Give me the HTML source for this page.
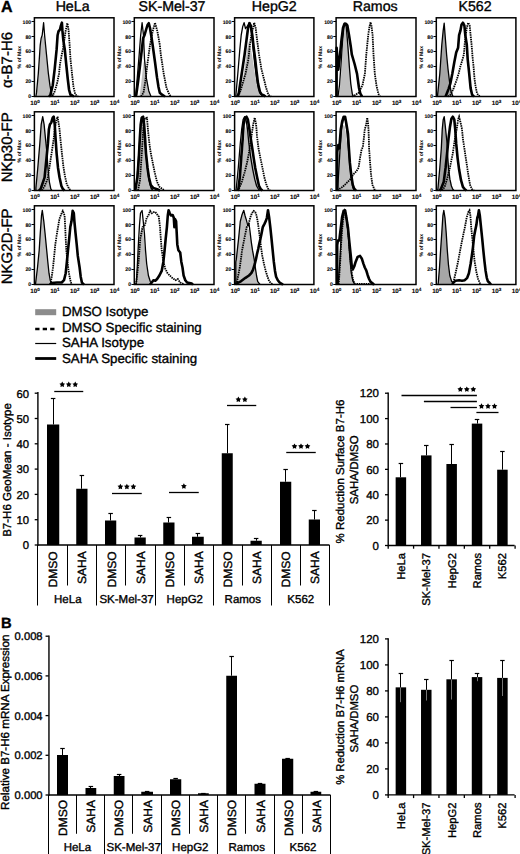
<!DOCTYPE html>
<html><head><meta charset="utf-8"><style>
html,body{margin:0;padding:0;background:#fff;}
svg{display:block;text-rendering:geometricPrecision;}
text{font-family:"Liberation Sans", sans-serif;fill:#000;stroke:#000;stroke-width:0.35px;}
</style></head><body>
<svg width="520" height="854" viewBox="0 0 520 854">
<rect width="520" height="854" fill="#fff"/>
<text x="1.00" y="11.50" font-size="16" text-anchor="start" font-weight="bold">A</text>
<text x="72.60" y="11.20" font-size="14.2" text-anchor="middle">HeLa</text>
<text x="172.00" y="11.20" font-size="14.2" text-anchor="middle">SK-Mel-37</text>
<text x="274.25" y="11.20" font-size="14.2" text-anchor="middle">HepG2</text>
<text x="375.20" y="11.20" font-size="14.2" text-anchor="middle">Ramos</text>
<text x="475.00" y="11.20" font-size="14.2" text-anchor="middle">K562</text>
<text x="12.20" y="60.00" font-size="15" text-anchor="middle" transform="rotate(-90 12.20 60.00)">&#945;-B7-H6</text>
<text x="12.20" y="147.30" font-size="15" text-anchor="middle" transform="rotate(-90 12.20 147.30)">NKp30-FP</text>
<text x="12.20" y="246.30" font-size="15" text-anchor="middle" transform="rotate(-90 12.20 246.30)">NKG2D-FP</text>
<path d="M36.50,96.50 L38.50,76.00 L40.30,50.00 L42.00,37.00 L43.30,35.50 L44.60,40.00 L46.50,56.00 L48.40,74.00 L50.00,86.00 L51.50,94.00 L52.50,96.50 Z" fill="#bfbfbf" stroke="none"/>
<path d="M35.90,96.50 L36.50,92.90 L38.30,73.70 L40.25,44.80 L41.20,38.10 L42.20,35.20 L43.60,22.70 L44.60,35.20 L46.50,54.50 L48.40,73.70 L49.90,85.20 L51.30,92.90 L52.30,95.30 L53.50,96.50" fill="none" stroke="#000" stroke-width="1.3" stroke-linejoin="round"/>
<path d="M52.00,96.50 L54.20,92.90 L57.10,83.30 L59.00,73.70 L60.00,64.00 L61.40,56.40 L62.80,49.70 L64.30,40.00 L65.70,30.40 L67.20,23.70 L67.50,23.20 L68.60,30.40 L69.60,44.80 L70.50,59.30 L72.00,73.70 L73.40,86.20 L74.90,92.90 L76.30,95.30 L78.00,96.50" fill="none" stroke="#000" stroke-width="1.8" stroke-dasharray="1.5,0.8"/>
<path d="M49.00,96.50 L50.30,95.30 L52.75,85.20 L54.70,68.90 L56.60,49.70 L57.60,35.20 L58.50,31.40 L60.00,29.50 L60.90,25.60 L61.90,22.70 L62.40,30.40 L63.30,40.00 L64.80,49.70 L66.20,64.00 L67.70,78.50 L69.10,90.00 L70.50,94.80 L72.00,95.30 L74.00,96.50" fill="none" stroke="#000" stroke-width="2.6" stroke-linejoin="round"/>
<rect x="34.40" y="17.80" width="79.60" height="78.70" fill="none" stroke="#000" stroke-width="1.5"/>
<line x1="31.60" y1="96.50" x2="34.40" y2="96.50" stroke="#000" stroke-width="1.0"/>
<text x="31.20" y="98.30" font-size="5.2" text-anchor="end" font-weight="bold" style="stroke-width:0.1px">0</text>
<line x1="31.60" y1="81.50" x2="34.40" y2="81.50" stroke="#000" stroke-width="1.0"/>
<text x="31.20" y="83.36" font-size="5.2" text-anchor="end" font-weight="bold" style="stroke-width:0.1px">20</text>
<line x1="31.60" y1="66.50" x2="34.40" y2="66.50" stroke="#000" stroke-width="1.0"/>
<text x="31.20" y="68.42" font-size="5.2" text-anchor="end" font-weight="bold" style="stroke-width:0.1px">40</text>
<line x1="31.60" y1="51.50" x2="34.40" y2="51.50" stroke="#000" stroke-width="1.0"/>
<text x="31.20" y="53.48" font-size="5.2" text-anchor="end" font-weight="bold" style="stroke-width:0.1px">60</text>
<line x1="31.60" y1="36.50" x2="34.40" y2="36.50" stroke="#000" stroke-width="1.0"/>
<text x="31.20" y="38.54" font-size="5.2" text-anchor="end" font-weight="bold" style="stroke-width:0.1px">80</text>
<line x1="31.60" y1="21.50" x2="34.40" y2="21.50" stroke="#000" stroke-width="1.0"/>
<text x="31.20" y="23.60" font-size="5.2" text-anchor="end" font-weight="bold" style="stroke-width:0.1px">100</text>
<text x="35.00" y="105.10" font-size="6.2" font-weight="bold" style="stroke-width:0.1px" text-anchor="middle">10<tspan font-size="4.6" dy="-2.6">0</tspan></text>
<text x="54.90" y="105.10" font-size="6.2" font-weight="bold" style="stroke-width:0.1px" text-anchor="middle">10<tspan font-size="4.6" dy="-2.6">1</tspan></text>
<text x="74.80" y="105.10" font-size="6.2" font-weight="bold" style="stroke-width:0.1px" text-anchor="middle">10<tspan font-size="4.6" dy="-2.6">2</tspan></text>
<text x="94.70" y="105.10" font-size="6.2" font-weight="bold" style="stroke-width:0.1px" text-anchor="middle">10<tspan font-size="4.6" dy="-2.6">3</tspan></text>
<text x="114.60" y="105.10" font-size="6.2" font-weight="bold" style="stroke-width:0.1px" text-anchor="middle">10<tspan font-size="4.6" dy="-2.6">4</tspan></text>
<text x="20.80" y="57.15" font-size="5.2" text-anchor="middle" font-weight="bold" transform="rotate(-90 20.80 57.15)" style="stroke-width:0px">% of Max</text>
<path d="M139.50,96.50 L141.00,85.00 L142.50,72.00 L143.50,63.00 L144.50,59.20 L145.50,64.00 L146.50,75.00 L148.00,86.00 L149.80,94.00 L150.50,96.50 Z" fill="#bfbfbf" stroke="none"/>
<path d="M135.50,96.50 L135.80,94.70 L137.50,75.00 L139.20,54.40 L140.70,35.00 L142.10,22.70 L143.50,35.20 L144.50,59.20 L146.40,78.40 L148.80,90.90 L151.00,96.50" fill="none" stroke="#000" stroke-width="1.3" stroke-linejoin="round"/>
<path d="M141.00,96.50 L143.50,92.80 L145.50,80.00 L147.40,64.00 L150.00,45.00 L152.50,32.00 L155.00,22.70 L157.40,31.40 L159.80,44.80 L160.80,54.40 L163.70,73.60 L166.50,88.00 L169.40,94.70 L171.00,96.50" fill="none" stroke="#000" stroke-width="1.8" stroke-dasharray="1.5,0.8"/>
<path d="M135.50,96.50 L136.30,94.70 L138.00,82.00 L140.20,64.00 L142.00,48.00 L143.20,38.00 L144.50,35.20 L146.00,30.00 L147.50,25.00 L148.80,23.20 L150.00,28.00 L151.30,36.00 L152.60,44.80 L155.00,62.00 L157.00,77.40 L158.50,87.00 L159.80,92.80 L162.00,94.70 L165.00,96.50" fill="none" stroke="#000" stroke-width="2.6" stroke-linejoin="round"/>
<rect x="134.30" y="17.80" width="79.70" height="78.70" fill="none" stroke="#000" stroke-width="1.5"/>
<line x1="131.50" y1="96.50" x2="134.30" y2="96.50" stroke="#000" stroke-width="1.0"/>
<text x="131.10" y="98.30" font-size="5.2" text-anchor="end" font-weight="bold" style="stroke-width:0.1px">0</text>
<line x1="131.50" y1="81.50" x2="134.30" y2="81.50" stroke="#000" stroke-width="1.0"/>
<text x="131.10" y="83.36" font-size="5.2" text-anchor="end" font-weight="bold" style="stroke-width:0.1px">20</text>
<line x1="131.50" y1="66.50" x2="134.30" y2="66.50" stroke="#000" stroke-width="1.0"/>
<text x="131.10" y="68.42" font-size="5.2" text-anchor="end" font-weight="bold" style="stroke-width:0.1px">40</text>
<line x1="131.50" y1="51.50" x2="134.30" y2="51.50" stroke="#000" stroke-width="1.0"/>
<text x="131.10" y="53.48" font-size="5.2" text-anchor="end" font-weight="bold" style="stroke-width:0.1px">60</text>
<line x1="131.50" y1="36.50" x2="134.30" y2="36.50" stroke="#000" stroke-width="1.0"/>
<text x="131.10" y="38.54" font-size="5.2" text-anchor="end" font-weight="bold" style="stroke-width:0.1px">80</text>
<line x1="131.50" y1="21.50" x2="134.30" y2="21.50" stroke="#000" stroke-width="1.0"/>
<text x="131.10" y="23.60" font-size="5.2" text-anchor="end" font-weight="bold" style="stroke-width:0.1px">100</text>
<text x="134.90" y="105.10" font-size="6.2" font-weight="bold" style="stroke-width:0.1px" text-anchor="middle">10<tspan font-size="4.6" dy="-2.6">0</tspan></text>
<text x="154.83" y="105.10" font-size="6.2" font-weight="bold" style="stroke-width:0.1px" text-anchor="middle">10<tspan font-size="4.6" dy="-2.6">1</tspan></text>
<text x="174.75" y="105.10" font-size="6.2" font-weight="bold" style="stroke-width:0.1px" text-anchor="middle">10<tspan font-size="4.6" dy="-2.6">2</tspan></text>
<text x="194.67" y="105.10" font-size="6.2" font-weight="bold" style="stroke-width:0.1px" text-anchor="middle">10<tspan font-size="4.6" dy="-2.6">3</tspan></text>
<text x="214.60" y="105.10" font-size="6.2" font-weight="bold" style="stroke-width:0.1px" text-anchor="middle">10<tspan font-size="4.6" dy="-2.6">4</tspan></text>
<text x="120.70" y="57.15" font-size="5.2" text-anchor="middle" font-weight="bold" transform="rotate(-90 120.70 57.15)" style="stroke-width:0px">% of Max</text>
<path d="M238.00,96.50 L242.00,85.00 L245.00,65.00 L247.00,50.00 L248.50,42.00 L250.00,45.00 L252.00,55.00 L254.00,68.00 L256.00,80.00 L258.00,90.00 L260.00,95.30 L261.00,96.50 Z" fill="#bfbfbf" stroke="none"/>
<path d="M235.90,96.50 L235.90,94.80 L237.80,73.70 L239.80,49.70 L241.20,35.20 L242.70,26.60 L244.10,22.70 L245.50,28.50 L247.00,26.60 L248.40,24.70 L249.90,22.70 L251.80,35.20 L253.20,49.70 L254.70,64.00 L256.60,78.50 L258.50,89.10 L260.40,93.90 L262.40,95.30 L264.00,96.50" fill="none" stroke="#000" stroke-width="1.3" stroke-linejoin="round"/>
<path d="M238.00,96.50 L239.80,92.90 L242.70,83.30 L245.50,73.70 L248.40,59.30 L249.90,44.80 L251.30,35.20 L253.20,27.50 L254.20,22.70 L255.60,27.50 L257.10,40.00 L259.00,54.50 L261.40,68.90 L263.80,78.50 L265.70,86.20 L267.70,92.90 L269.10,95.30 L271.00,96.50" fill="none" stroke="#000" stroke-width="1.8" stroke-dasharray="1.5,0.8"/>
<path d="M237.50,96.50 L238.80,92.90 L241.70,73.70 L244.60,54.50 L246.50,40.00 L248.00,28.50 L249.40,23.20 L250.80,25.60 L252.30,35.20 L253.70,47.70 L255.20,59.30 L256.60,71.80 L258.00,83.30 L260.00,92.00 L261.90,94.80 L263.80,95.30 L265.50,96.50" fill="none" stroke="#000" stroke-width="2.6" stroke-linejoin="round"/>
<rect x="234.60" y="17.80" width="79.30" height="78.70" fill="none" stroke="#000" stroke-width="1.5"/>
<line x1="231.80" y1="96.50" x2="234.60" y2="96.50" stroke="#000" stroke-width="1.0"/>
<text x="231.40" y="98.30" font-size="5.2" text-anchor="end" font-weight="bold" style="stroke-width:0.1px">0</text>
<line x1="231.80" y1="81.50" x2="234.60" y2="81.50" stroke="#000" stroke-width="1.0"/>
<text x="231.40" y="83.36" font-size="5.2" text-anchor="end" font-weight="bold" style="stroke-width:0.1px">20</text>
<line x1="231.80" y1="66.50" x2="234.60" y2="66.50" stroke="#000" stroke-width="1.0"/>
<text x="231.40" y="68.42" font-size="5.2" text-anchor="end" font-weight="bold" style="stroke-width:0.1px">40</text>
<line x1="231.80" y1="51.50" x2="234.60" y2="51.50" stroke="#000" stroke-width="1.0"/>
<text x="231.40" y="53.48" font-size="5.2" text-anchor="end" font-weight="bold" style="stroke-width:0.1px">60</text>
<line x1="231.80" y1="36.50" x2="234.60" y2="36.50" stroke="#000" stroke-width="1.0"/>
<text x="231.40" y="38.54" font-size="5.2" text-anchor="end" font-weight="bold" style="stroke-width:0.1px">80</text>
<line x1="231.80" y1="21.50" x2="234.60" y2="21.50" stroke="#000" stroke-width="1.0"/>
<text x="231.40" y="23.60" font-size="5.2" text-anchor="end" font-weight="bold" style="stroke-width:0.1px">100</text>
<text x="235.20" y="105.10" font-size="6.2" font-weight="bold" style="stroke-width:0.1px" text-anchor="middle">10<tspan font-size="4.6" dy="-2.6">0</tspan></text>
<text x="255.02" y="105.10" font-size="6.2" font-weight="bold" style="stroke-width:0.1px" text-anchor="middle">10<tspan font-size="4.6" dy="-2.6">1</tspan></text>
<text x="274.85" y="105.10" font-size="6.2" font-weight="bold" style="stroke-width:0.1px" text-anchor="middle">10<tspan font-size="4.6" dy="-2.6">2</tspan></text>
<text x="294.68" y="105.10" font-size="6.2" font-weight="bold" style="stroke-width:0.1px" text-anchor="middle">10<tspan font-size="4.6" dy="-2.6">3</tspan></text>
<text x="314.50" y="105.10" font-size="6.2" font-weight="bold" style="stroke-width:0.1px" text-anchor="middle">10<tspan font-size="4.6" dy="-2.6">4</tspan></text>
<text x="221.00" y="57.15" font-size="5.2" text-anchor="middle" font-weight="bold" transform="rotate(-90 221.00 57.15)" style="stroke-width:0px">% of Max</text>
<path d="M338.80,96.50 L340.00,88.00 L341.50,70.00 L343.00,45.00 L344.50,28.00 L345.50,24.00 L346.50,28.00 L348.00,45.00 L349.50,65.00 L351.00,82.00 L352.50,93.00 L353.20,96.50 Z" fill="#bfbfbf" stroke="none"/>
<path d="M338.00,96.50 L339.50,85.00 L341.00,65.00 L342.50,42.00 L344.00,26.00 L345.00,23.00 L346.30,27.00 L347.80,45.00 L349.30,66.00 L350.80,84.00 L352.30,94.00 L353.50,96.50" fill="none" stroke="#000" stroke-width="1.3" stroke-linejoin="round"/>
<path d="M352.00,96.50 L354.80,95.20 L358.60,92.80 L362.50,85.10 L364.90,73.60 L366.30,54.40 L368.20,35.20 L369.60,26.00 L370.60,22.20 L371.50,26.00 L372.60,35.20 L373.50,54.40 L374.80,73.60 L376.40,85.10 L378.30,93.70 L380.00,96.50" fill="none" stroke="#000" stroke-width="1.8" stroke-dasharray="1.5,0.8"/>
<path d="M336.60,96.50 L336.60,47.70 L337.50,60.00 L338.30,69.70 L340.00,55.00 L341.50,40.00 L343.00,28.00 L344.50,23.70 L346.00,23.70 L347.40,25.60 L349.00,35.00 L350.80,46.70 L351.80,54.40 L354.60,64.00 L357.00,73.60 L359.00,88.00 L360.40,93.70 L362.00,96.50" fill="none" stroke="#000" stroke-width="2.6" stroke-linejoin="round"/>
<rect x="336.10" y="17.80" width="79.90" height="78.70" fill="none" stroke="#000" stroke-width="1.5"/>
<line x1="333.30" y1="96.50" x2="336.10" y2="96.50" stroke="#000" stroke-width="1.0"/>
<text x="332.90" y="98.30" font-size="5.2" text-anchor="end" font-weight="bold" style="stroke-width:0.1px">0</text>
<line x1="333.30" y1="81.50" x2="336.10" y2="81.50" stroke="#000" stroke-width="1.0"/>
<text x="332.90" y="83.36" font-size="5.2" text-anchor="end" font-weight="bold" style="stroke-width:0.1px">20</text>
<line x1="333.30" y1="66.50" x2="336.10" y2="66.50" stroke="#000" stroke-width="1.0"/>
<text x="332.90" y="68.42" font-size="5.2" text-anchor="end" font-weight="bold" style="stroke-width:0.1px">40</text>
<line x1="333.30" y1="51.50" x2="336.10" y2="51.50" stroke="#000" stroke-width="1.0"/>
<text x="332.90" y="53.48" font-size="5.2" text-anchor="end" font-weight="bold" style="stroke-width:0.1px">60</text>
<line x1="333.30" y1="36.50" x2="336.10" y2="36.50" stroke="#000" stroke-width="1.0"/>
<text x="332.90" y="38.54" font-size="5.2" text-anchor="end" font-weight="bold" style="stroke-width:0.1px">80</text>
<line x1="333.30" y1="21.50" x2="336.10" y2="21.50" stroke="#000" stroke-width="1.0"/>
<text x="332.90" y="23.60" font-size="5.2" text-anchor="end" font-weight="bold" style="stroke-width:0.1px">100</text>
<text x="336.70" y="105.10" font-size="6.2" font-weight="bold" style="stroke-width:0.1px" text-anchor="middle">10<tspan font-size="4.6" dy="-2.6">0</tspan></text>
<text x="356.68" y="105.10" font-size="6.2" font-weight="bold" style="stroke-width:0.1px" text-anchor="middle">10<tspan font-size="4.6" dy="-2.6">1</tspan></text>
<text x="376.65" y="105.10" font-size="6.2" font-weight="bold" style="stroke-width:0.1px" text-anchor="middle">10<tspan font-size="4.6" dy="-2.6">2</tspan></text>
<text x="396.62" y="105.10" font-size="6.2" font-weight="bold" style="stroke-width:0.1px" text-anchor="middle">10<tspan font-size="4.6" dy="-2.6">3</tspan></text>
<text x="416.60" y="105.10" font-size="6.2" font-weight="bold" style="stroke-width:0.1px" text-anchor="middle">10<tspan font-size="4.6" dy="-2.6">4</tspan></text>
<text x="322.50" y="57.15" font-size="5.2" text-anchor="middle" font-weight="bold" transform="rotate(-90 322.50 57.15)" style="stroke-width:0px">% of Max</text>
<path d="M437.40,96.50 L437.80,92.90 L439.80,73.70 L441.80,44.80 L443.20,30.40 L444.20,23.20 L445.10,35.20 L446.60,54.50 L448.00,68.90 L449.50,81.40 L450.90,91.00 L452.30,94.80 L453.00,96.50 Z" fill="#a6a6a6" stroke="none"/>
<path d="M437.40,96.50 L437.80,92.90 L439.80,73.70 L441.80,44.80 L443.20,30.40 L444.20,23.20 L445.10,35.20 L446.60,54.50 L448.00,68.90 L449.50,81.40 L450.90,91.00 L452.30,94.80 L453.00,96.50" fill="none" stroke="#000" stroke-width="1.3" stroke-linejoin="round"/>
<path d="M448.00,96.50 L450.40,94.80 L453.30,89.10 L456.20,81.40 L458.60,73.70 L460.50,66.00 L462.00,61.20 L463.90,54.50 L464.80,42.90 L465.80,35.20 L466.80,27.50 L468.20,22.70 L469.70,25.60 L470.60,35.20 L471.60,44.80 L472.50,56.40 L473.50,66.00 L474.50,78.50 L475.40,85.20 L476.90,92.90 L478.30,95.30 L480.00,96.50" fill="none" stroke="#000" stroke-width="1.8" stroke-dasharray="1.5,0.8"/>
<path d="M445.60,96.50 L448.50,89.10 L450.40,83.30 L452.30,73.70 L454.30,62.20 L456.20,52.50 L458.10,47.70 L459.10,35.20 L460.50,30.40 L461.50,24.70 L462.90,22.70 L464.40,25.60 L465.30,35.20 L466.80,44.80 L467.70,59.30 L469.20,73.70 L470.60,88.10 L472.10,94.80 L474.00,96.50" fill="none" stroke="#000" stroke-width="2.6" stroke-linejoin="round"/>
<rect x="436.30" y="17.80" width="79.60" height="78.70" fill="none" stroke="#000" stroke-width="1.5"/>
<line x1="433.50" y1="96.50" x2="436.30" y2="96.50" stroke="#000" stroke-width="1.0"/>
<text x="433.10" y="98.30" font-size="5.2" text-anchor="end" font-weight="bold" style="stroke-width:0.1px">0</text>
<line x1="433.50" y1="81.50" x2="436.30" y2="81.50" stroke="#000" stroke-width="1.0"/>
<text x="433.10" y="83.36" font-size="5.2" text-anchor="end" font-weight="bold" style="stroke-width:0.1px">20</text>
<line x1="433.50" y1="66.50" x2="436.30" y2="66.50" stroke="#000" stroke-width="1.0"/>
<text x="433.10" y="68.42" font-size="5.2" text-anchor="end" font-weight="bold" style="stroke-width:0.1px">40</text>
<line x1="433.50" y1="51.50" x2="436.30" y2="51.50" stroke="#000" stroke-width="1.0"/>
<text x="433.10" y="53.48" font-size="5.2" text-anchor="end" font-weight="bold" style="stroke-width:0.1px">60</text>
<line x1="433.50" y1="36.50" x2="436.30" y2="36.50" stroke="#000" stroke-width="1.0"/>
<text x="433.10" y="38.54" font-size="5.2" text-anchor="end" font-weight="bold" style="stroke-width:0.1px">80</text>
<line x1="433.50" y1="21.50" x2="436.30" y2="21.50" stroke="#000" stroke-width="1.0"/>
<text x="433.10" y="23.60" font-size="5.2" text-anchor="end" font-weight="bold" style="stroke-width:0.1px">100</text>
<text x="436.90" y="105.10" font-size="6.2" font-weight="bold" style="stroke-width:0.1px" text-anchor="middle">10<tspan font-size="4.6" dy="-2.6">0</tspan></text>
<text x="456.80" y="105.10" font-size="6.2" font-weight="bold" style="stroke-width:0.1px" text-anchor="middle">10<tspan font-size="4.6" dy="-2.6">1</tspan></text>
<text x="476.70" y="105.10" font-size="6.2" font-weight="bold" style="stroke-width:0.1px" text-anchor="middle">10<tspan font-size="4.6" dy="-2.6">2</tspan></text>
<text x="496.60" y="105.10" font-size="6.2" font-weight="bold" style="stroke-width:0.1px" text-anchor="middle">10<tspan font-size="4.6" dy="-2.6">3</tspan></text>
<text x="516.50" y="105.10" font-size="6.2" font-weight="bold" style="stroke-width:0.1px" text-anchor="middle">10<tspan font-size="4.6" dy="-2.6">4</tspan></text>
<text x="422.70" y="57.15" font-size="5.2" text-anchor="middle" font-weight="bold" transform="rotate(-90 422.70 57.15)" style="stroke-width:0px">% of Max</text>
<path d="M35.90,190.50 L35.90,187.90 L37.80,167.70 L39.80,143.70 L41.20,124.40 L42.70,116.70 L44.10,124.40 L45.50,138.80 L47.00,153.30 L47.90,167.70 L49.40,182.10 L50.80,188.80 L52.00,190.50 Z" fill="#bfbfbf" stroke="none"/>
<path d="M35.90,190.50 L35.90,187.90 L37.80,167.70 L39.80,143.70 L41.20,124.40 L42.70,116.70 L44.10,124.40 L45.50,138.80 L47.00,153.30 L47.90,167.70 L49.40,182.10 L50.80,188.80 L52.00,190.50" fill="none" stroke="#000" stroke-width="1.3" stroke-linejoin="round"/>
<path d="M42.00,190.50 L44.60,186.00 L47.50,179.20 L49.40,167.70 L50.80,158.10 L52.30,148.50 L53.70,138.80 L54.70,129.20 L56.60,119.60 L57.60,116.70 L59.50,129.20 L60.40,138.80 L61.90,153.30 L63.30,165.80 L64.80,175.40 L66.70,184.00 L69.10,188.80 L71.00,190.50" fill="none" stroke="#000" stroke-width="1.8" stroke-dasharray="1.5,0.8"/>
<path d="M39.00,190.50 L40.70,188.80 L44.60,177.30 L46.50,158.10 L47.90,143.70 L48.90,129.20 L49.90,124.40 L51.30,122.50 L52.75,117.70 L53.70,116.70 L54.70,124.40 L55.60,138.80 L56.60,153.30 L58.00,167.70 L59.50,177.30 L61.40,186.00 L62.80,188.80 L64.50,190.50" fill="none" stroke="#000" stroke-width="2.6" stroke-linejoin="round"/>
<rect x="34.40" y="111.80" width="79.60" height="78.70" fill="none" stroke="#000" stroke-width="1.5"/>
<line x1="31.60" y1="190.50" x2="34.40" y2="190.50" stroke="#000" stroke-width="1.0"/>
<text x="31.20" y="192.30" font-size="5.2" text-anchor="end" font-weight="bold" style="stroke-width:0.1px">0</text>
<line x1="31.60" y1="175.50" x2="34.40" y2="175.50" stroke="#000" stroke-width="1.0"/>
<text x="31.20" y="177.36" font-size="5.2" text-anchor="end" font-weight="bold" style="stroke-width:0.1px">20</text>
<line x1="31.60" y1="160.50" x2="34.40" y2="160.50" stroke="#000" stroke-width="1.0"/>
<text x="31.20" y="162.42" font-size="5.2" text-anchor="end" font-weight="bold" style="stroke-width:0.1px">40</text>
<line x1="31.60" y1="145.50" x2="34.40" y2="145.50" stroke="#000" stroke-width="1.0"/>
<text x="31.20" y="147.48" font-size="5.2" text-anchor="end" font-weight="bold" style="stroke-width:0.1px">60</text>
<line x1="31.60" y1="130.50" x2="34.40" y2="130.50" stroke="#000" stroke-width="1.0"/>
<text x="31.20" y="132.54" font-size="5.2" text-anchor="end" font-weight="bold" style="stroke-width:0.1px">80</text>
<line x1="31.60" y1="115.50" x2="34.40" y2="115.50" stroke="#000" stroke-width="1.0"/>
<text x="31.20" y="117.60" font-size="5.2" text-anchor="end" font-weight="bold" style="stroke-width:0.1px">100</text>
<text x="35.00" y="199.10" font-size="6.2" font-weight="bold" style="stroke-width:0.1px" text-anchor="middle">10<tspan font-size="4.6" dy="-2.6">0</tspan></text>
<text x="54.90" y="199.10" font-size="6.2" font-weight="bold" style="stroke-width:0.1px" text-anchor="middle">10<tspan font-size="4.6" dy="-2.6">1</tspan></text>
<text x="74.80" y="199.10" font-size="6.2" font-weight="bold" style="stroke-width:0.1px" text-anchor="middle">10<tspan font-size="4.6" dy="-2.6">2</tspan></text>
<text x="94.70" y="199.10" font-size="6.2" font-weight="bold" style="stroke-width:0.1px" text-anchor="middle">10<tspan font-size="4.6" dy="-2.6">3</tspan></text>
<text x="114.60" y="199.10" font-size="6.2" font-weight="bold" style="stroke-width:0.1px" text-anchor="middle">10<tspan font-size="4.6" dy="-2.6">4</tspan></text>
<text x="20.80" y="151.15" font-size="5.2" text-anchor="middle" font-weight="bold" transform="rotate(-90 20.80 151.15)" style="stroke-width:0px">% of Max</text>
<path d="M136.50,190.50 L138.00,180.00 L140.00,150.00 L141.50,125.00 L143.00,118.00 L144.50,125.00 L146.00,145.00 L148.00,165.00 L150.00,180.00 L152.00,188.00 L154.00,190.50 Z" fill="#bfbfbf" stroke="none"/>
<path d="M135.60,190.50 L137.00,180.00 L139.00,150.00 L140.80,125.00 L142.20,116.70 L143.60,125.00 L145.20,145.00 L147.00,165.00 L149.00,180.00 L151.00,188.00 L153.00,190.50" fill="none" stroke="#000" stroke-width="1.3" stroke-linejoin="round"/>
<path d="M138.00,190.50 L140.00,180.00 L142.00,150.00 L143.50,125.00 L145.00,118.00 L147.00,117.70 L147.90,129.20 L149.40,143.70 L150.80,153.30 L152.75,162.90 L154.70,172.50 L157.10,182.10 L159.50,186.90 L162.80,189.30 L164.50,190.50" fill="none" stroke="#000" stroke-width="1.8" stroke-dasharray="1.5,0.8"/>
<path d="M135.00,190.50 L135.40,189.30 L137.40,177.30 L138.80,158.10 L139.80,138.80 L140.70,124.40 L141.70,117.70 L143.10,116.70 L144.10,124.40 L145.10,138.80 L146.00,153.30 L147.50,167.70 L148.90,177.30 L150.80,185.00 L153.20,187.90 L157.10,189.30 L160.00,190.50" fill="none" stroke="#000" stroke-width="2.6" stroke-linejoin="round"/>
<rect x="134.30" y="111.80" width="79.70" height="78.70" fill="none" stroke="#000" stroke-width="1.5"/>
<line x1="131.50" y1="190.50" x2="134.30" y2="190.50" stroke="#000" stroke-width="1.0"/>
<text x="131.10" y="192.30" font-size="5.2" text-anchor="end" font-weight="bold" style="stroke-width:0.1px">0</text>
<line x1="131.50" y1="175.50" x2="134.30" y2="175.50" stroke="#000" stroke-width="1.0"/>
<text x="131.10" y="177.36" font-size="5.2" text-anchor="end" font-weight="bold" style="stroke-width:0.1px">20</text>
<line x1="131.50" y1="160.50" x2="134.30" y2="160.50" stroke="#000" stroke-width="1.0"/>
<text x="131.10" y="162.42" font-size="5.2" text-anchor="end" font-weight="bold" style="stroke-width:0.1px">40</text>
<line x1="131.50" y1="145.50" x2="134.30" y2="145.50" stroke="#000" stroke-width="1.0"/>
<text x="131.10" y="147.48" font-size="5.2" text-anchor="end" font-weight="bold" style="stroke-width:0.1px">60</text>
<line x1="131.50" y1="130.50" x2="134.30" y2="130.50" stroke="#000" stroke-width="1.0"/>
<text x="131.10" y="132.54" font-size="5.2" text-anchor="end" font-weight="bold" style="stroke-width:0.1px">80</text>
<line x1="131.50" y1="115.50" x2="134.30" y2="115.50" stroke="#000" stroke-width="1.0"/>
<text x="131.10" y="117.60" font-size="5.2" text-anchor="end" font-weight="bold" style="stroke-width:0.1px">100</text>
<text x="134.90" y="199.10" font-size="6.2" font-weight="bold" style="stroke-width:0.1px" text-anchor="middle">10<tspan font-size="4.6" dy="-2.6">0</tspan></text>
<text x="154.83" y="199.10" font-size="6.2" font-weight="bold" style="stroke-width:0.1px" text-anchor="middle">10<tspan font-size="4.6" dy="-2.6">1</tspan></text>
<text x="174.75" y="199.10" font-size="6.2" font-weight="bold" style="stroke-width:0.1px" text-anchor="middle">10<tspan font-size="4.6" dy="-2.6">2</tspan></text>
<text x="194.67" y="199.10" font-size="6.2" font-weight="bold" style="stroke-width:0.1px" text-anchor="middle">10<tspan font-size="4.6" dy="-2.6">3</tspan></text>
<text x="214.60" y="199.10" font-size="6.2" font-weight="bold" style="stroke-width:0.1px" text-anchor="middle">10<tspan font-size="4.6" dy="-2.6">4</tspan></text>
<text x="120.70" y="151.15" font-size="5.2" text-anchor="middle" font-weight="bold" transform="rotate(-90 120.70 151.15)" style="stroke-width:0px">% of Max</text>
<path d="M238.00,190.50 L240.00,180.00 L242.00,160.00 L244.00,140.00 L245.50,128.00 L247.00,125.00 L248.50,130.00 L250.00,142.00 L252.00,157.00 L254.00,170.00 L256.00,180.00 L258.00,187.00 L260.00,190.50 Z" fill="#bfbfbf" stroke="none"/>
<path d="M236.00,190.50 L236.40,186.90 L238.30,167.70 L240.25,143.70 L241.70,129.20 L243.10,119.60 L244.60,116.70 L246.00,119.60 L247.50,129.20 L248.90,143.70 L250.80,158.10 L252.75,169.60 L254.70,179.20 L256.60,186.00 L258.50,189.30 L260.00,190.50" fill="none" stroke="#000" stroke-width="1.3" stroke-linejoin="round"/>
<path d="M237.50,190.50 L238.80,189.30 L241.70,182.10 L244.60,172.50 L247.00,162.90 L248.90,153.30 L250.30,143.70 L251.80,134.00 L253.20,124.40 L254.70,117.70 L256.10,124.40 L257.10,136.90 L258.50,148.50 L260.40,158.10 L262.40,167.70 L264.30,177.30 L266.20,184.00 L268.10,188.80 L270.00,190.50" fill="none" stroke="#000" stroke-width="1.8" stroke-dasharray="1.5,0.8"/>
<path d="M237.50,190.50 L238.30,189.30 L239.80,177.30 L241.20,158.10 L242.70,138.80 L243.60,124.40 L245.10,117.70 L246.50,116.70 L247.90,119.60 L249.40,129.20 L250.80,138.80 L252.30,148.50 L253.70,158.10 L255.20,167.70 L257.10,177.30 L259.00,186.00 L260.90,189.30 L262.50,190.50" fill="none" stroke="#000" stroke-width="2.6" stroke-linejoin="round"/>
<rect x="234.60" y="111.80" width="79.30" height="78.70" fill="none" stroke="#000" stroke-width="1.5"/>
<line x1="231.80" y1="190.50" x2="234.60" y2="190.50" stroke="#000" stroke-width="1.0"/>
<text x="231.40" y="192.30" font-size="5.2" text-anchor="end" font-weight="bold" style="stroke-width:0.1px">0</text>
<line x1="231.80" y1="175.50" x2="234.60" y2="175.50" stroke="#000" stroke-width="1.0"/>
<text x="231.40" y="177.36" font-size="5.2" text-anchor="end" font-weight="bold" style="stroke-width:0.1px">20</text>
<line x1="231.80" y1="160.50" x2="234.60" y2="160.50" stroke="#000" stroke-width="1.0"/>
<text x="231.40" y="162.42" font-size="5.2" text-anchor="end" font-weight="bold" style="stroke-width:0.1px">40</text>
<line x1="231.80" y1="145.50" x2="234.60" y2="145.50" stroke="#000" stroke-width="1.0"/>
<text x="231.40" y="147.48" font-size="5.2" text-anchor="end" font-weight="bold" style="stroke-width:0.1px">60</text>
<line x1="231.80" y1="130.50" x2="234.60" y2="130.50" stroke="#000" stroke-width="1.0"/>
<text x="231.40" y="132.54" font-size="5.2" text-anchor="end" font-weight="bold" style="stroke-width:0.1px">80</text>
<line x1="231.80" y1="115.50" x2="234.60" y2="115.50" stroke="#000" stroke-width="1.0"/>
<text x="231.40" y="117.60" font-size="5.2" text-anchor="end" font-weight="bold" style="stroke-width:0.1px">100</text>
<text x="235.20" y="199.10" font-size="6.2" font-weight="bold" style="stroke-width:0.1px" text-anchor="middle">10<tspan font-size="4.6" dy="-2.6">0</tspan></text>
<text x="255.02" y="199.10" font-size="6.2" font-weight="bold" style="stroke-width:0.1px" text-anchor="middle">10<tspan font-size="4.6" dy="-2.6">1</tspan></text>
<text x="274.85" y="199.10" font-size="6.2" font-weight="bold" style="stroke-width:0.1px" text-anchor="middle">10<tspan font-size="4.6" dy="-2.6">2</tspan></text>
<text x="294.68" y="199.10" font-size="6.2" font-weight="bold" style="stroke-width:0.1px" text-anchor="middle">10<tspan font-size="4.6" dy="-2.6">3</tspan></text>
<text x="314.50" y="199.10" font-size="6.2" font-weight="bold" style="stroke-width:0.1px" text-anchor="middle">10<tspan font-size="4.6" dy="-2.6">4</tspan></text>
<text x="221.00" y="151.15" font-size="5.2" text-anchor="middle" font-weight="bold" transform="rotate(-90 221.00 151.15)" style="stroke-width:0px">% of Max</text>
<path d="M337.90,190.50 L337.90,189.30 L338.80,167.70 L340.80,143.70 L342.20,129.20 L343.70,124.40 L345.10,127.30 L346.50,138.80 L348.00,153.30 L349.40,167.70 L350.90,179.20 L352.30,186.90 L353.75,189.30 L354.50,190.50 Z" fill="#bfbfbf" stroke="none"/>
<path d="M337.50,190.50 L338.50,175.00 L340.00,150.00 L341.50,130.00 L343.00,120.00 L344.30,117.50 L345.60,121.00 L347.00,132.00 L348.50,150.00 L350.00,167.70 L351.50,180.00 L353.00,188.00 L354.50,190.50" fill="none" stroke="#000" stroke-width="1.3" stroke-linejoin="round"/>
<path d="M337.50,190.50 L338.80,189.30 L342.70,186.90 L346.50,183.10 L350.40,179.20 L353.30,174.40 L356.20,171.50 L358.60,167.70 L360.00,158.10 L361.40,150.40 L362.90,146.50 L363.80,138.80 L364.80,129.20 L366.25,124.40 L367.20,117.70 L368.20,124.40 L368.70,134.00 L369.10,148.50 L370.10,162.90 L371.10,175.40 L372.50,185.00 L374.40,189.30 L376.00,190.50" fill="none" stroke="#000" stroke-width="1.8" stroke-dasharray="1.5,0.8"/>
<path d="M337.20,190.50 L337.20,152.00 L338.30,145.00 L339.30,148.50 L340.80,129.20 L342.20,121.50 L343.70,116.70 L345.10,116.70 L346.50,124.40 L348.00,134.00 L348.90,148.50 L349.90,162.90 L351.30,175.40 L352.80,185.00 L354.20,188.80 L356.00,190.50" fill="none" stroke="#000" stroke-width="2.6" stroke-linejoin="round"/>
<rect x="336.10" y="111.80" width="79.90" height="78.70" fill="none" stroke="#000" stroke-width="1.5"/>
<line x1="333.30" y1="190.50" x2="336.10" y2="190.50" stroke="#000" stroke-width="1.0"/>
<text x="332.90" y="192.30" font-size="5.2" text-anchor="end" font-weight="bold" style="stroke-width:0.1px">0</text>
<line x1="333.30" y1="175.50" x2="336.10" y2="175.50" stroke="#000" stroke-width="1.0"/>
<text x="332.90" y="177.36" font-size="5.2" text-anchor="end" font-weight="bold" style="stroke-width:0.1px">20</text>
<line x1="333.30" y1="160.50" x2="336.10" y2="160.50" stroke="#000" stroke-width="1.0"/>
<text x="332.90" y="162.42" font-size="5.2" text-anchor="end" font-weight="bold" style="stroke-width:0.1px">40</text>
<line x1="333.30" y1="145.50" x2="336.10" y2="145.50" stroke="#000" stroke-width="1.0"/>
<text x="332.90" y="147.48" font-size="5.2" text-anchor="end" font-weight="bold" style="stroke-width:0.1px">60</text>
<line x1="333.30" y1="130.50" x2="336.10" y2="130.50" stroke="#000" stroke-width="1.0"/>
<text x="332.90" y="132.54" font-size="5.2" text-anchor="end" font-weight="bold" style="stroke-width:0.1px">80</text>
<line x1="333.30" y1="115.50" x2="336.10" y2="115.50" stroke="#000" stroke-width="1.0"/>
<text x="332.90" y="117.60" font-size="5.2" text-anchor="end" font-weight="bold" style="stroke-width:0.1px">100</text>
<text x="336.70" y="199.10" font-size="6.2" font-weight="bold" style="stroke-width:0.1px" text-anchor="middle">10<tspan font-size="4.6" dy="-2.6">0</tspan></text>
<text x="356.68" y="199.10" font-size="6.2" font-weight="bold" style="stroke-width:0.1px" text-anchor="middle">10<tspan font-size="4.6" dy="-2.6">1</tspan></text>
<text x="376.65" y="199.10" font-size="6.2" font-weight="bold" style="stroke-width:0.1px" text-anchor="middle">10<tspan font-size="4.6" dy="-2.6">2</tspan></text>
<text x="396.62" y="199.10" font-size="6.2" font-weight="bold" style="stroke-width:0.1px" text-anchor="middle">10<tspan font-size="4.6" dy="-2.6">3</tspan></text>
<text x="416.60" y="199.10" font-size="6.2" font-weight="bold" style="stroke-width:0.1px" text-anchor="middle">10<tspan font-size="4.6" dy="-2.6">4</tspan></text>
<text x="322.50" y="151.15" font-size="5.2" text-anchor="middle" font-weight="bold" transform="rotate(-90 322.50 151.15)" style="stroke-width:0px">% of Max</text>
<path d="M437.50,190.50 L437.90,188.80 L439.80,167.70 L441.30,148.50 L442.25,129.20 L443.20,119.60 L444.20,116.70 L445.10,124.40 L446.10,134.00 L447.10,143.70 L447.50,153.30 L448.50,167.70 L449.90,179.20 L451.40,186.00 L452.80,189.30 L454.00,190.50 Z" fill="#a6a6a6" stroke="none"/>
<path d="M437.50,190.50 L437.90,188.80 L439.80,167.70 L441.30,148.50 L442.25,129.20 L443.20,119.60 L444.20,116.70 L445.10,124.40 L446.10,134.00 L447.10,143.70 L447.50,153.30 L448.50,167.70 L449.90,179.20 L451.40,186.00 L452.80,189.30 L454.00,190.50" fill="none" stroke="#000" stroke-width="1.3" stroke-linejoin="round"/>
<path d="M442.00,190.50 L444.70,186.90 L447.50,177.30 L449.90,167.70 L451.40,160.00 L452.80,153.30 L453.80,146.50 L455.20,136.90 L456.70,129.20 L458.10,119.60 L459.10,116.70 L461.00,124.40 L462.00,129.20 L462.90,138.80 L464.40,148.50 L465.80,158.10 L467.25,167.70 L468.70,177.30 L470.10,185.00 L472.10,189.30 L474.00,190.50" fill="none" stroke="#000" stroke-width="1.8" stroke-dasharray="1.5,0.8"/>
<path d="M439.50,190.50 L440.80,189.30 L443.70,182.10 L445.60,167.70 L447.10,153.30 L448.50,138.80 L449.90,127.30 L451.40,118.70 L452.80,116.70 L454.30,119.60 L455.20,129.20 L456.20,143.70 L457.60,158.10 L459.10,169.60 L461.00,180.20 L462.90,186.90 L464.80,189.30 L466.50,190.50" fill="none" stroke="#000" stroke-width="2.6" stroke-linejoin="round"/>
<rect x="436.30" y="111.80" width="79.60" height="78.70" fill="none" stroke="#000" stroke-width="1.5"/>
<line x1="433.50" y1="190.50" x2="436.30" y2="190.50" stroke="#000" stroke-width="1.0"/>
<text x="433.10" y="192.30" font-size="5.2" text-anchor="end" font-weight="bold" style="stroke-width:0.1px">0</text>
<line x1="433.50" y1="175.50" x2="436.30" y2="175.50" stroke="#000" stroke-width="1.0"/>
<text x="433.10" y="177.36" font-size="5.2" text-anchor="end" font-weight="bold" style="stroke-width:0.1px">20</text>
<line x1="433.50" y1="160.50" x2="436.30" y2="160.50" stroke="#000" stroke-width="1.0"/>
<text x="433.10" y="162.42" font-size="5.2" text-anchor="end" font-weight="bold" style="stroke-width:0.1px">40</text>
<line x1="433.50" y1="145.50" x2="436.30" y2="145.50" stroke="#000" stroke-width="1.0"/>
<text x="433.10" y="147.48" font-size="5.2" text-anchor="end" font-weight="bold" style="stroke-width:0.1px">60</text>
<line x1="433.50" y1="130.50" x2="436.30" y2="130.50" stroke="#000" stroke-width="1.0"/>
<text x="433.10" y="132.54" font-size="5.2" text-anchor="end" font-weight="bold" style="stroke-width:0.1px">80</text>
<line x1="433.50" y1="115.50" x2="436.30" y2="115.50" stroke="#000" stroke-width="1.0"/>
<text x="433.10" y="117.60" font-size="5.2" text-anchor="end" font-weight="bold" style="stroke-width:0.1px">100</text>
<text x="436.90" y="199.10" font-size="6.2" font-weight="bold" style="stroke-width:0.1px" text-anchor="middle">10<tspan font-size="4.6" dy="-2.6">0</tspan></text>
<text x="456.80" y="199.10" font-size="6.2" font-weight="bold" style="stroke-width:0.1px" text-anchor="middle">10<tspan font-size="4.6" dy="-2.6">1</tspan></text>
<text x="476.70" y="199.10" font-size="6.2" font-weight="bold" style="stroke-width:0.1px" text-anchor="middle">10<tspan font-size="4.6" dy="-2.6">2</tspan></text>
<text x="496.60" y="199.10" font-size="6.2" font-weight="bold" style="stroke-width:0.1px" text-anchor="middle">10<tspan font-size="4.6" dy="-2.6">3</tspan></text>
<text x="516.50" y="199.10" font-size="6.2" font-weight="bold" style="stroke-width:0.1px" text-anchor="middle">10<tspan font-size="4.6" dy="-2.6">4</tspan></text>
<text x="422.70" y="151.15" font-size="5.2" text-anchor="middle" font-weight="bold" transform="rotate(-90 422.70 151.15)" style="stroke-width:0px">% of Max</text>
<path d="M35.50,284.50 L35.70,282.50 L37.50,267.50 L39.20,250.20 L40.30,232.80 L41.50,215.50 L42.30,210.30 L43.80,221.30 L45.00,232.80 L46.70,250.20 L47.80,261.70 L49.00,273.20 L50.20,280.20 L51.30,283.00 L52.00,284.50 Z" fill="#bfbfbf" stroke="none"/>
<path d="M35.50,284.50 L35.70,282.50 L37.50,267.50 L39.20,250.20 L40.30,232.80 L41.50,215.50 L42.30,210.30 L43.80,221.30 L45.00,232.80 L46.70,250.20 L47.80,261.70 L49.00,273.20 L50.20,280.20 L51.30,283.00 L52.00,284.50" fill="none" stroke="#000" stroke-width="1.3" stroke-linejoin="round"/>
<path d="M50.00,284.50 L50.70,283.00 L51.90,275.50 L53.00,267.50 L54.20,255.90 L55.30,244.40 L56.50,236.30 L57.65,229.40 L59.40,219.00 L61.10,214.40 L62.80,210.90 L64.60,215.50 L65.20,227.10 L65.70,238.60 L66.30,250.20 L67.50,261.70 L68.60,270.90 L69.80,277.80 L70.90,282.50 L72.00,284.50" fill="none" stroke="#000" stroke-width="1.8" stroke-dasharray="1.5,0.8"/>
<path d="M50.50,284.50 L51.30,283.00 L57.10,282.50 L61.70,282.50 L64.00,280.20 L65.70,273.20 L66.90,261.70 L68.00,250.20 L69.20,238.60 L70.30,227.10 L71.50,221.30 L72.65,210.90 L73.80,213.20 L74.40,221.30 L75.50,232.80 L76.70,244.40 L77.80,255.90 L79.60,267.50 L80.70,276.70 L81.90,282.50 L83.00,283.60 L84.00,284.50" fill="none" stroke="#000" stroke-width="2.6" stroke-linejoin="round"/>
<rect x="34.40" y="205.80" width="79.60" height="78.70" fill="none" stroke="#000" stroke-width="1.5"/>
<line x1="31.60" y1="284.50" x2="34.40" y2="284.50" stroke="#000" stroke-width="1.0"/>
<text x="31.20" y="286.30" font-size="5.2" text-anchor="end" font-weight="bold" style="stroke-width:0.1px">0</text>
<line x1="31.60" y1="269.50" x2="34.40" y2="269.50" stroke="#000" stroke-width="1.0"/>
<text x="31.20" y="271.36" font-size="5.2" text-anchor="end" font-weight="bold" style="stroke-width:0.1px">20</text>
<line x1="31.60" y1="254.50" x2="34.40" y2="254.50" stroke="#000" stroke-width="1.0"/>
<text x="31.20" y="256.42" font-size="5.2" text-anchor="end" font-weight="bold" style="stroke-width:0.1px">40</text>
<line x1="31.60" y1="239.50" x2="34.40" y2="239.50" stroke="#000" stroke-width="1.0"/>
<text x="31.20" y="241.48" font-size="5.2" text-anchor="end" font-weight="bold" style="stroke-width:0.1px">60</text>
<line x1="31.60" y1="224.50" x2="34.40" y2="224.50" stroke="#000" stroke-width="1.0"/>
<text x="31.20" y="226.54" font-size="5.2" text-anchor="end" font-weight="bold" style="stroke-width:0.1px">80</text>
<line x1="31.60" y1="209.50" x2="34.40" y2="209.50" stroke="#000" stroke-width="1.0"/>
<text x="31.20" y="211.60" font-size="5.2" text-anchor="end" font-weight="bold" style="stroke-width:0.1px">100</text>
<text x="35.00" y="293.10" font-size="6.2" font-weight="bold" style="stroke-width:0.1px" text-anchor="middle">10<tspan font-size="4.6" dy="-2.6">0</tspan></text>
<text x="54.90" y="293.10" font-size="6.2" font-weight="bold" style="stroke-width:0.1px" text-anchor="middle">10<tspan font-size="4.6" dy="-2.6">1</tspan></text>
<text x="74.80" y="293.10" font-size="6.2" font-weight="bold" style="stroke-width:0.1px" text-anchor="middle">10<tspan font-size="4.6" dy="-2.6">2</tspan></text>
<text x="94.70" y="293.10" font-size="6.2" font-weight="bold" style="stroke-width:0.1px" text-anchor="middle">10<tspan font-size="4.6" dy="-2.6">3</tspan></text>
<text x="114.60" y="293.10" font-size="6.2" font-weight="bold" style="stroke-width:0.1px" text-anchor="middle">10<tspan font-size="4.6" dy="-2.6">4</tspan></text>
<text x="20.80" y="245.15" font-size="5.2" text-anchor="middle" font-weight="bold" transform="rotate(-90 20.80 245.15)" style="stroke-width:0px">% of Max</text>
<path d="M136.30,284.50 L137.50,268.00 L138.80,248.00 L140.30,232.00 L141.80,226.00 L143.20,231.00 L144.50,245.00 L146.00,260.00 L147.50,272.00 L149.50,280.00 L151.50,284.50 Z" fill="#bfbfbf" stroke="none"/>
<path d="M135.90,284.50 L136.50,280.00 L137.50,262.00 L138.60,240.00 L139.50,225.00 L140.50,213.00 L142.10,210.50 L143.20,221.00 L144.40,233.00 L145.50,250.00 L146.70,264.00 L148.40,275.50 L150.20,281.30 L152.00,284.50" fill="none" stroke="#000" stroke-width="1.3" stroke-linejoin="round"/>
<path d="M136.00,284.50 L136.30,282.50 L138.60,261.70 L140.30,238.60 L142.65,227.10 L145.00,224.80 L146.70,217.80 L148.40,215.50 L150.20,210.90 L151.90,213.20 L153.60,212.10 L155.30,212.10 L157.10,214.40 L158.80,216.70 L160.00,227.10 L160.80,238.60 L161.70,250.20 L163.40,261.70 L165.20,268.60 L167.50,273.20 L169.80,275.50 L172.10,277.80 L175.50,280.20 L177.80,279.00 L180.20,282.50 L182.50,283.60 L184.00,284.50" fill="none" stroke="#000" stroke-width="1.8" stroke-dasharray="1.5,0.8"/>
<path d="M150.00,284.50 L151.30,283.00 L153.60,280.20 L155.30,280.70 L157.10,279.00 L159.40,275.50 L161.70,270.90 L163.40,261.70 L164.60,250.20 L165.70,238.60 L166.90,227.10 L167.80,215.50 L168.60,210.30 L169.80,213.20 L170.90,215.50 L172.65,215.00 L173.80,217.80 L174.40,227.10 L175.00,219.00 L176.10,221.30 L176.70,232.80 L177.30,244.40 L178.40,250.20 L180.20,252.50 L181.30,261.70 L182.50,267.50 L183.60,275.50 L185.30,280.20 L187.10,282.50 L189.40,283.00 L191.70,283.60 L193.00,284.50" fill="none" stroke="#000" stroke-width="2.6" stroke-linejoin="round"/>
<rect x="134.30" y="205.80" width="79.70" height="78.70" fill="none" stroke="#000" stroke-width="1.5"/>
<line x1="131.50" y1="284.50" x2="134.30" y2="284.50" stroke="#000" stroke-width="1.0"/>
<text x="131.10" y="286.30" font-size="5.2" text-anchor="end" font-weight="bold" style="stroke-width:0.1px">0</text>
<line x1="131.50" y1="269.50" x2="134.30" y2="269.50" stroke="#000" stroke-width="1.0"/>
<text x="131.10" y="271.36" font-size="5.2" text-anchor="end" font-weight="bold" style="stroke-width:0.1px">20</text>
<line x1="131.50" y1="254.50" x2="134.30" y2="254.50" stroke="#000" stroke-width="1.0"/>
<text x="131.10" y="256.42" font-size="5.2" text-anchor="end" font-weight="bold" style="stroke-width:0.1px">40</text>
<line x1="131.50" y1="239.50" x2="134.30" y2="239.50" stroke="#000" stroke-width="1.0"/>
<text x="131.10" y="241.48" font-size="5.2" text-anchor="end" font-weight="bold" style="stroke-width:0.1px">60</text>
<line x1="131.50" y1="224.50" x2="134.30" y2="224.50" stroke="#000" stroke-width="1.0"/>
<text x="131.10" y="226.54" font-size="5.2" text-anchor="end" font-weight="bold" style="stroke-width:0.1px">80</text>
<line x1="131.50" y1="209.50" x2="134.30" y2="209.50" stroke="#000" stroke-width="1.0"/>
<text x="131.10" y="211.60" font-size="5.2" text-anchor="end" font-weight="bold" style="stroke-width:0.1px">100</text>
<text x="134.90" y="293.10" font-size="6.2" font-weight="bold" style="stroke-width:0.1px" text-anchor="middle">10<tspan font-size="4.6" dy="-2.6">0</tspan></text>
<text x="154.83" y="293.10" font-size="6.2" font-weight="bold" style="stroke-width:0.1px" text-anchor="middle">10<tspan font-size="4.6" dy="-2.6">1</tspan></text>
<text x="174.75" y="293.10" font-size="6.2" font-weight="bold" style="stroke-width:0.1px" text-anchor="middle">10<tspan font-size="4.6" dy="-2.6">2</tspan></text>
<text x="194.67" y="293.10" font-size="6.2" font-weight="bold" style="stroke-width:0.1px" text-anchor="middle">10<tspan font-size="4.6" dy="-2.6">3</tspan></text>
<text x="214.60" y="293.10" font-size="6.2" font-weight="bold" style="stroke-width:0.1px" text-anchor="middle">10<tspan font-size="4.6" dy="-2.6">4</tspan></text>
<text x="120.70" y="245.15" font-size="5.2" text-anchor="middle" font-weight="bold" transform="rotate(-90 120.70 245.15)" style="stroke-width:0px">% of Max</text>
<path d="M235.70,284.50 L235.70,262.00 L237.00,250.00 L238.50,238.00 L240.00,225.00 L241.50,216.00 L243.00,212.00 L244.50,215.00 L246.00,222.00 L247.50,228.00 L249.00,230.00 L250.50,236.00 L252.00,245.00 L253.50,254.00 L255.00,264.00 L256.50,274.00 L258.00,282.00 L259.00,284.50 Z" fill="#bfbfbf" stroke="none"/>
<path d="M235.80,284.50 L235.80,262.00 L236.30,259.40 L238.60,238.60 L240.30,221.30 L242.10,214.40 L243.80,210.30 L245.00,215.50 L246.70,221.30 L247.80,225.90 L249.00,223.60 L250.20,232.80 L251.30,242.10 L252.50,250.20 L254.20,259.40 L255.30,267.50 L256.50,275.50 L257.65,281.30 L258.80,283.00 L260.00,284.50" fill="none" stroke="#000" stroke-width="1.3" stroke-linejoin="round"/>
<path d="M236.50,284.50 L237.50,279.00 L239.80,267.50 L242.10,250.20 L244.40,238.60 L246.70,227.10 L248.40,224.80 L250.20,217.80 L251.90,213.20 L253.60,210.90 L255.30,212.10 L256.50,215.50 L257.65,221.30 L258.80,229.40 L260.00,238.60 L261.10,247.80 L262.30,255.90 L264.00,264.00 L265.70,270.90 L267.50,276.70 L269.20,281.30 L270.90,283.00 L272.50,284.50" fill="none" stroke="#000" stroke-width="1.8" stroke-dasharray="1.5,0.8"/>
<path d="M235.80,284.50 L236.30,283.60 L240.90,281.30 L245.50,277.80 L249.00,275.50 L251.30,273.20 L253.00,269.80 L254.80,264.00 L255.90,259.40 L257.10,253.60 L258.20,249.00 L259.40,243.20 L260.50,238.60 L261.70,232.80 L262.80,227.10 L264.60,223.60 L265.70,221.30 L266.90,217.80 L268.00,210.30 L269.20,217.80 L270.30,227.10 L271.50,238.60 L272.65,250.20 L273.80,261.70 L275.00,270.90 L276.10,276.70 L277.80,280.20 L279.60,282.50 L281.30,283.60 L283.00,284.50" fill="none" stroke="#000" stroke-width="2.6" stroke-linejoin="round"/>
<rect x="234.60" y="205.80" width="79.30" height="78.70" fill="none" stroke="#000" stroke-width="1.5"/>
<line x1="231.80" y1="284.50" x2="234.60" y2="284.50" stroke="#000" stroke-width="1.0"/>
<text x="231.40" y="286.30" font-size="5.2" text-anchor="end" font-weight="bold" style="stroke-width:0.1px">0</text>
<line x1="231.80" y1="269.50" x2="234.60" y2="269.50" stroke="#000" stroke-width="1.0"/>
<text x="231.40" y="271.36" font-size="5.2" text-anchor="end" font-weight="bold" style="stroke-width:0.1px">20</text>
<line x1="231.80" y1="254.50" x2="234.60" y2="254.50" stroke="#000" stroke-width="1.0"/>
<text x="231.40" y="256.42" font-size="5.2" text-anchor="end" font-weight="bold" style="stroke-width:0.1px">40</text>
<line x1="231.80" y1="239.50" x2="234.60" y2="239.50" stroke="#000" stroke-width="1.0"/>
<text x="231.40" y="241.48" font-size="5.2" text-anchor="end" font-weight="bold" style="stroke-width:0.1px">60</text>
<line x1="231.80" y1="224.50" x2="234.60" y2="224.50" stroke="#000" stroke-width="1.0"/>
<text x="231.40" y="226.54" font-size="5.2" text-anchor="end" font-weight="bold" style="stroke-width:0.1px">80</text>
<line x1="231.80" y1="209.50" x2="234.60" y2="209.50" stroke="#000" stroke-width="1.0"/>
<text x="231.40" y="211.60" font-size="5.2" text-anchor="end" font-weight="bold" style="stroke-width:0.1px">100</text>
<text x="235.20" y="293.10" font-size="6.2" font-weight="bold" style="stroke-width:0.1px" text-anchor="middle">10<tspan font-size="4.6" dy="-2.6">0</tspan></text>
<text x="255.02" y="293.10" font-size="6.2" font-weight="bold" style="stroke-width:0.1px" text-anchor="middle">10<tspan font-size="4.6" dy="-2.6">1</tspan></text>
<text x="274.85" y="293.10" font-size="6.2" font-weight="bold" style="stroke-width:0.1px" text-anchor="middle">10<tspan font-size="4.6" dy="-2.6">2</tspan></text>
<text x="294.68" y="293.10" font-size="6.2" font-weight="bold" style="stroke-width:0.1px" text-anchor="middle">10<tspan font-size="4.6" dy="-2.6">3</tspan></text>
<text x="314.50" y="293.10" font-size="6.2" font-weight="bold" style="stroke-width:0.1px" text-anchor="middle">10<tspan font-size="4.6" dy="-2.6">4</tspan></text>
<text x="221.00" y="245.15" font-size="5.2" text-anchor="middle" font-weight="bold" transform="rotate(-90 221.00 245.15)" style="stroke-width:0px">% of Max</text>
<path d="M338.00,284.50 L338.40,280.90 L339.80,261.70 L340.80,242.50 L341.70,228.00 L342.70,218.40 L344.10,210.70 L345.60,213.60 L347.00,223.20 L348.50,237.70 L349.40,252.10 L350.40,263.60 L351.30,273.20 L352.80,280.90 L354.20,283.30 L355.00,284.50 Z" fill="#bfbfbf" stroke="none"/>
<path d="M338.00,284.50 L338.40,280.90 L339.80,261.70 L340.80,242.50 L341.70,228.00 L342.70,218.40 L344.10,210.70 L345.60,213.60 L347.00,223.20 L348.50,237.70 L349.40,252.10 L350.40,263.60 L351.30,273.20 L352.80,280.90 L354.20,283.30 L355.00,284.50" fill="none" stroke="#000" stroke-width="1.3" stroke-linejoin="round"/>
<path d="M338.60,284.50 L339.00,280.00 L340.20,262.00 L341.20,243.00 L342.20,229.00 L343.20,219.00 L344.60,211.00 L346.00,214.00 L347.40,224.00 L348.80,238.00 L349.80,252.00 L350.80,264.00 L351.80,273.00 L353.30,281.00 L355.00,284.00 L370.00,284.00 L375.00,284.50" fill="none" stroke="#000" stroke-width="1.8" stroke-dasharray="1.5,0.8"/>
<path d="M337.20,284.50 L337.20,245.00 L337.90,240.50 L339.30,240.50 L340.80,228.00 L342.20,216.50 L343.70,210.70 L345.10,210.30 L346.50,218.40 L348.00,228.00 L349.40,242.50 L350.90,256.90 L351.80,266.50 L352.80,269.40 L354.20,266.50 L355.70,261.70 L357.60,256.90 L360.00,255.90 L361.90,258.80 L363.40,263.60 L364.80,267.50 L366.25,270.30 L367.70,275.20 L369.10,279.00 L370.60,281.90 L372.50,283.30 L374.00,284.50" fill="none" stroke="#000" stroke-width="2.6" stroke-linejoin="round"/>
<rect x="336.10" y="205.80" width="79.90" height="78.70" fill="none" stroke="#000" stroke-width="1.5"/>
<line x1="333.30" y1="284.50" x2="336.10" y2="284.50" stroke="#000" stroke-width="1.0"/>
<text x="332.90" y="286.30" font-size="5.2" text-anchor="end" font-weight="bold" style="stroke-width:0.1px">0</text>
<line x1="333.30" y1="269.50" x2="336.10" y2="269.50" stroke="#000" stroke-width="1.0"/>
<text x="332.90" y="271.36" font-size="5.2" text-anchor="end" font-weight="bold" style="stroke-width:0.1px">20</text>
<line x1="333.30" y1="254.50" x2="336.10" y2="254.50" stroke="#000" stroke-width="1.0"/>
<text x="332.90" y="256.42" font-size="5.2" text-anchor="end" font-weight="bold" style="stroke-width:0.1px">40</text>
<line x1="333.30" y1="239.50" x2="336.10" y2="239.50" stroke="#000" stroke-width="1.0"/>
<text x="332.90" y="241.48" font-size="5.2" text-anchor="end" font-weight="bold" style="stroke-width:0.1px">60</text>
<line x1="333.30" y1="224.50" x2="336.10" y2="224.50" stroke="#000" stroke-width="1.0"/>
<text x="332.90" y="226.54" font-size="5.2" text-anchor="end" font-weight="bold" style="stroke-width:0.1px">80</text>
<line x1="333.30" y1="209.50" x2="336.10" y2="209.50" stroke="#000" stroke-width="1.0"/>
<text x="332.90" y="211.60" font-size="5.2" text-anchor="end" font-weight="bold" style="stroke-width:0.1px">100</text>
<text x="336.70" y="293.10" font-size="6.2" font-weight="bold" style="stroke-width:0.1px" text-anchor="middle">10<tspan font-size="4.6" dy="-2.6">0</tspan></text>
<text x="356.68" y="293.10" font-size="6.2" font-weight="bold" style="stroke-width:0.1px" text-anchor="middle">10<tspan font-size="4.6" dy="-2.6">1</tspan></text>
<text x="376.65" y="293.10" font-size="6.2" font-weight="bold" style="stroke-width:0.1px" text-anchor="middle">10<tspan font-size="4.6" dy="-2.6">2</tspan></text>
<text x="396.62" y="293.10" font-size="6.2" font-weight="bold" style="stroke-width:0.1px" text-anchor="middle">10<tspan font-size="4.6" dy="-2.6">3</tspan></text>
<text x="416.60" y="293.10" font-size="6.2" font-weight="bold" style="stroke-width:0.1px" text-anchor="middle">10<tspan font-size="4.6" dy="-2.6">4</tspan></text>
<text x="322.50" y="245.15" font-size="5.2" text-anchor="middle" font-weight="bold" transform="rotate(-90 322.50 245.15)" style="stroke-width:0px">% of Max</text>
<path d="M438.00,284.50 L438.30,282.50 L439.50,267.50 L440.60,250.20 L441.80,232.80 L442.90,215.50 L443.80,210.30 L445.00,217.80 L446.20,232.80 L447.30,250.20 L448.50,265.20 L449.80,275.50 L451.60,281.30 L453.30,283.00 L454.00,284.50 Z" fill="#a6a6a6" stroke="none"/>
<path d="M438.00,284.50 L438.30,282.50 L439.50,267.50 L440.60,250.20 L441.80,232.80 L442.90,215.50 L443.80,210.30 L445.00,217.80 L446.20,232.80 L447.30,250.20 L448.50,265.20 L449.80,275.50 L451.60,281.30 L453.30,283.00 L454.00,284.50" fill="none" stroke="#000" stroke-width="1.3" stroke-linejoin="round"/>
<path d="M452.50,284.50 L453.30,283.00 L455.00,275.50 L456.80,267.50 L458.50,259.40 L460.20,250.20 L462.00,240.90 L463.70,232.80 L465.40,224.80 L466.60,217.80 L468.30,212.10 L469.50,210.30 L470.40,215.50 L471.20,227.10 L472.30,238.60 L473.50,250.20 L474.65,261.70 L476.40,272.10 L478.10,279.00 L479.80,283.00 L481.00,284.50" fill="none" stroke="#000" stroke-width="1.8" stroke-dasharray="1.5,0.8"/>
<path d="M452.50,284.50 L453.30,282.50 L455.60,280.70 L459.10,280.20 L462.00,280.70 L464.80,280.20 L467.20,277.80 L468.90,273.20 L470.60,264.00 L471.80,255.90 L472.90,247.80 L474.10,236.30 L475.20,230.50 L476.40,224.80 L477.30,217.80 L478.10,215.50 L478.90,210.30 L479.80,215.50 L481.00,227.10 L482.20,238.60 L483.30,250.20 L484.50,261.70 L485.60,270.90 L486.80,277.80 L487.90,281.30 L489.70,283.00 L491.00,284.50" fill="none" stroke="#000" stroke-width="2.6" stroke-linejoin="round"/>
<rect x="436.30" y="205.80" width="79.60" height="78.70" fill="none" stroke="#000" stroke-width="1.5"/>
<line x1="433.50" y1="284.50" x2="436.30" y2="284.50" stroke="#000" stroke-width="1.0"/>
<text x="433.10" y="286.30" font-size="5.2" text-anchor="end" font-weight="bold" style="stroke-width:0.1px">0</text>
<line x1="433.50" y1="269.50" x2="436.30" y2="269.50" stroke="#000" stroke-width="1.0"/>
<text x="433.10" y="271.36" font-size="5.2" text-anchor="end" font-weight="bold" style="stroke-width:0.1px">20</text>
<line x1="433.50" y1="254.50" x2="436.30" y2="254.50" stroke="#000" stroke-width="1.0"/>
<text x="433.10" y="256.42" font-size="5.2" text-anchor="end" font-weight="bold" style="stroke-width:0.1px">40</text>
<line x1="433.50" y1="239.50" x2="436.30" y2="239.50" stroke="#000" stroke-width="1.0"/>
<text x="433.10" y="241.48" font-size="5.2" text-anchor="end" font-weight="bold" style="stroke-width:0.1px">60</text>
<line x1="433.50" y1="224.50" x2="436.30" y2="224.50" stroke="#000" stroke-width="1.0"/>
<text x="433.10" y="226.54" font-size="5.2" text-anchor="end" font-weight="bold" style="stroke-width:0.1px">80</text>
<line x1="433.50" y1="209.50" x2="436.30" y2="209.50" stroke="#000" stroke-width="1.0"/>
<text x="433.10" y="211.60" font-size="5.2" text-anchor="end" font-weight="bold" style="stroke-width:0.1px">100</text>
<text x="436.90" y="293.10" font-size="6.2" font-weight="bold" style="stroke-width:0.1px" text-anchor="middle">10<tspan font-size="4.6" dy="-2.6">0</tspan></text>
<text x="456.80" y="293.10" font-size="6.2" font-weight="bold" style="stroke-width:0.1px" text-anchor="middle">10<tspan font-size="4.6" dy="-2.6">1</tspan></text>
<text x="476.70" y="293.10" font-size="6.2" font-weight="bold" style="stroke-width:0.1px" text-anchor="middle">10<tspan font-size="4.6" dy="-2.6">2</tspan></text>
<text x="496.60" y="293.10" font-size="6.2" font-weight="bold" style="stroke-width:0.1px" text-anchor="middle">10<tspan font-size="4.6" dy="-2.6">3</tspan></text>
<text x="516.50" y="293.10" font-size="6.2" font-weight="bold" style="stroke-width:0.1px" text-anchor="middle">10<tspan font-size="4.6" dy="-2.6">4</tspan></text>
<text x="422.70" y="245.15" font-size="5.2" text-anchor="middle" font-weight="bold" transform="rotate(-90 422.70 245.15)" style="stroke-width:0px">% of Max</text>
<rect x="35.20" y="309.20" width="21.00" height="6.00" fill="#8c8c8c"/>
<line x1="35.20" y1="329.00" x2="56.20" y2="329.00" stroke="#000" stroke-width="2.5" stroke-dasharray="4.3,3.2"/>
<line x1="35.20" y1="343.50" x2="56.20" y2="343.50" stroke="#000" stroke-width="1.2"/>
<line x1="35.20" y1="358.50" x2="56.20" y2="358.50" stroke="#000" stroke-width="2.8"/>
<text x="62.00" y="316.00" font-size="13.3" text-anchor="start">DMSO Isotype</text>
<text x="62.00" y="331.67" font-size="13.3" text-anchor="start">DMSO Specific staining</text>
<text x="62.00" y="347.34" font-size="13.3" text-anchor="start">SAHA Isotype</text>
<text x="62.00" y="363.01" font-size="13.3" text-anchor="start">SAHA Specific staining</text>
<line x1="37.90" y1="392.05" x2="37.90" y2="545.70" stroke="#000" stroke-width="1.4"/>
<line x1="34.70" y1="545.00" x2="37.90" y2="545.00" stroke="#000" stroke-width="1.3"/>
<text x="29.00" y="549.30" font-size="11.3" text-anchor="end">0</text>
<line x1="34.70" y1="519.70" x2="37.90" y2="519.70" stroke="#000" stroke-width="1.3"/>
<text x="29.00" y="524.00" font-size="11.3" text-anchor="end">10</text>
<line x1="34.70" y1="494.40" x2="37.90" y2="494.40" stroke="#000" stroke-width="1.3"/>
<text x="29.00" y="498.70" font-size="11.3" text-anchor="end">20</text>
<line x1="34.70" y1="469.10" x2="37.90" y2="469.10" stroke="#000" stroke-width="1.3"/>
<text x="29.00" y="473.40" font-size="11.3" text-anchor="end">30</text>
<line x1="34.70" y1="443.80" x2="37.90" y2="443.80" stroke="#000" stroke-width="1.3"/>
<text x="29.00" y="448.10" font-size="11.3" text-anchor="end">40</text>
<line x1="34.70" y1="418.50" x2="37.90" y2="418.50" stroke="#000" stroke-width="1.3"/>
<text x="29.00" y="422.80" font-size="11.3" text-anchor="end">50</text>
<line x1="34.70" y1="393.20" x2="37.90" y2="393.20" stroke="#000" stroke-width="1.3"/>
<text x="29.00" y="397.50" font-size="11.3" text-anchor="end">60</text>
<text x="11.00" y="470.00" font-size="11.5" text-anchor="middle" transform="rotate(-90 11.00 470.00)">B7-H6 GeoMean - Isotype</text>
<line x1="37.90" y1="545.00" x2="329.50" y2="545.00" stroke="#000" stroke-width="1.4"/>
<line x1="37.50" y1="545.00" x2="37.50" y2="605.50" stroke="#000" stroke-width="1.0"/>
<line x1="96.50" y1="545.00" x2="96.50" y2="605.50" stroke="#000" stroke-width="1.0"/>
<line x1="155.50" y1="545.00" x2="155.50" y2="605.50" stroke="#000" stroke-width="1.0"/>
<line x1="213.50" y1="545.00" x2="213.50" y2="605.50" stroke="#000" stroke-width="1.0"/>
<line x1="271.50" y1="545.00" x2="271.50" y2="605.50" stroke="#000" stroke-width="1.0"/>
<line x1="329.50" y1="545.00" x2="329.50" y2="605.50" stroke="#000" stroke-width="1.0"/>
<line x1="67.50" y1="545.00" x2="67.50" y2="585.50" stroke="#000" stroke-width="1.0"/>
<line x1="125.50" y1="545.00" x2="125.50" y2="585.50" stroke="#000" stroke-width="1.0"/>
<line x1="184.50" y1="545.00" x2="184.50" y2="585.50" stroke="#000" stroke-width="1.0"/>
<line x1="242.50" y1="545.00" x2="242.50" y2="585.50" stroke="#000" stroke-width="1.0"/>
<line x1="300.50" y1="545.00" x2="300.50" y2="585.50" stroke="#000" stroke-width="1.0"/>
<rect x="47.00" y="424.50" width="12.25" height="120.50" fill="#000"/>
<line x1="53.50" y1="424.50" x2="53.50" y2="398.00" stroke="#000" stroke-width="1.0"/>
<line x1="50.88" y1="398.50" x2="55.38" y2="398.50" stroke="#000" stroke-width="1.2"/>
<rect x="76.25" y="488.75" width="11.25" height="56.25" fill="#000"/>
<line x1="81.50" y1="488.75" x2="81.50" y2="475.75" stroke="#000" stroke-width="1.0"/>
<line x1="79.62" y1="475.50" x2="84.12" y2="475.50" stroke="#000" stroke-width="1.2"/>
<rect x="105.00" y="520.50" width="11.25" height="24.50" fill="#000"/>
<line x1="110.50" y1="520.50" x2="110.50" y2="513.75" stroke="#000" stroke-width="1.0"/>
<line x1="108.38" y1="513.50" x2="112.88" y2="513.50" stroke="#000" stroke-width="1.2"/>
<rect x="134.50" y="537.50" width="11.25" height="7.50" fill="#000"/>
<line x1="140.50" y1="537.50" x2="140.50" y2="535.75" stroke="#000" stroke-width="1.0"/>
<line x1="137.88" y1="535.50" x2="142.38" y2="535.50" stroke="#000" stroke-width="1.2"/>
<rect x="163.25" y="522.50" width="11.25" height="22.50" fill="#000"/>
<line x1="168.50" y1="522.50" x2="168.50" y2="517.50" stroke="#000" stroke-width="1.0"/>
<line x1="166.62" y1="517.50" x2="171.12" y2="517.50" stroke="#000" stroke-width="1.2"/>
<rect x="192.00" y="536.75" width="11.75" height="8.25" fill="#000"/>
<line x1="197.50" y1="536.75" x2="197.50" y2="533.25" stroke="#000" stroke-width="1.0"/>
<line x1="195.62" y1="533.50" x2="200.12" y2="533.50" stroke="#000" stroke-width="1.2"/>
<rect x="221.75" y="453.25" width="11.00" height="91.75" fill="#000"/>
<line x1="227.50" y1="453.25" x2="227.50" y2="424.50" stroke="#000" stroke-width="1.0"/>
<line x1="225.00" y1="424.50" x2="229.50" y2="424.50" stroke="#000" stroke-width="1.2"/>
<rect x="250.50" y="540.75" width="11.25" height="4.25" fill="#000"/>
<line x1="256.50" y1="540.75" x2="256.50" y2="538.25" stroke="#000" stroke-width="1.0"/>
<line x1="253.88" y1="538.50" x2="258.38" y2="538.50" stroke="#000" stroke-width="1.2"/>
<rect x="280.00" y="481.75" width="11.25" height="63.25" fill="#000"/>
<line x1="285.50" y1="481.75" x2="285.50" y2="469.25" stroke="#000" stroke-width="1.0"/>
<line x1="283.38" y1="469.50" x2="287.88" y2="469.50" stroke="#000" stroke-width="1.2"/>
<rect x="308.75" y="519.50" width="11.25" height="25.50" fill="#000"/>
<line x1="314.50" y1="519.50" x2="314.50" y2="510.50" stroke="#000" stroke-width="1.0"/>
<line x1="312.12" y1="510.50" x2="316.62" y2="510.50" stroke="#000" stroke-width="1.2"/>
<text x="56.85" y="551.30" font-size="12" text-anchor="end" transform="rotate(-90 56.85 551.30)">DMSO</text>
<text x="86.35" y="551.30" font-size="12" text-anchor="end" transform="rotate(-90 86.35 551.30)">SAHA</text>
<text x="67.80" y="602.50" font-size="11.5" text-anchor="middle">HeLa</text>
<text x="115.72" y="551.30" font-size="12" text-anchor="end" transform="rotate(-90 115.72 551.30)">DMSO</text>
<text x="144.97" y="551.30" font-size="12" text-anchor="end" transform="rotate(-90 144.97 551.30)">SAHA</text>
<text x="126.55" y="602.50" font-size="11.5" text-anchor="middle">SK-Mel-37</text>
<text x="174.10" y="551.30" font-size="12" text-anchor="end" transform="rotate(-90 174.10 551.30)">DMSO</text>
<text x="203.10" y="551.30" font-size="12" text-anchor="end" transform="rotate(-90 203.10 551.30)">SAHA</text>
<text x="184.80" y="602.50" font-size="11.5" text-anchor="middle">HepG2</text>
<text x="232.10" y="551.30" font-size="12" text-anchor="end" transform="rotate(-90 232.10 551.30)">DMSO</text>
<text x="261.10" y="551.30" font-size="12" text-anchor="end" transform="rotate(-90 261.10 551.30)">SAHA</text>
<text x="242.80" y="602.50" font-size="11.5" text-anchor="middle">Ramos</text>
<text x="290.10" y="551.30" font-size="12" text-anchor="end" transform="rotate(-90 290.10 551.30)">DMSO</text>
<text x="319.10" y="551.30" font-size="12" text-anchor="end" transform="rotate(-90 319.10 551.30)">SAHA</text>
<text x="300.80" y="602.50" font-size="11.5" text-anchor="middle">K562</text>
<line x1="54.25" y1="391.50" x2="83.25" y2="391.50" stroke="#000" stroke-width="1.3"/>
<polygon points="62.25,381.60 63.19,383.31 65.10,383.67 63.77,385.09 64.01,387.03 62.25,386.20 60.49,387.03 60.73,385.09 59.40,383.67 61.31,383.31" fill="#000"/>
<polygon points="68.75,381.60 69.69,383.31 71.60,383.67 70.27,385.09 70.51,387.03 68.75,386.20 66.99,387.03 67.23,385.09 65.90,383.67 67.81,383.31" fill="#000"/>
<polygon points="75.25,381.60 76.19,383.31 78.10,383.67 76.77,385.09 77.01,387.03 75.25,386.20 73.49,387.03 73.73,385.09 72.40,383.67 74.31,383.31" fill="#000"/>
<line x1="112.00" y1="493.50" x2="141.75" y2="493.50" stroke="#000" stroke-width="1.3"/>
<polygon points="120.38,483.80 121.32,485.51 123.23,485.87 121.90,487.29 122.14,489.23 120.38,488.40 118.61,489.23 118.85,487.29 117.52,485.87 119.43,485.51" fill="#000"/>
<polygon points="126.88,483.80 127.82,485.51 129.73,485.87 128.40,487.29 128.64,489.23 126.88,488.40 125.11,489.23 125.35,487.29 124.02,485.87 125.93,485.51" fill="#000"/>
<polygon points="133.38,483.80 134.32,485.51 136.23,485.87 134.90,487.29 135.14,489.23 133.38,488.40 131.61,489.23 131.85,487.29 130.52,485.87 132.43,485.51" fill="#000"/>
<line x1="169.00" y1="492.50" x2="198.75" y2="492.50" stroke="#000" stroke-width="1.3"/>
<polygon points="183.88,483.30 184.82,485.01 186.73,485.37 185.40,486.79 185.64,488.73 183.88,487.90 182.11,488.73 182.35,486.79 181.02,485.37 182.93,485.01" fill="#000"/>
<line x1="227.00" y1="405.50" x2="256.25" y2="405.50" stroke="#000" stroke-width="1.3"/>
<polygon points="238.38,396.60 239.32,398.31 241.23,398.67 239.90,400.09 240.14,402.03 238.38,401.20 236.61,402.03 236.85,400.09 235.52,398.67 237.43,398.31" fill="#000"/>
<polygon points="244.88,396.60 245.82,398.31 247.73,398.67 246.40,400.09 246.64,402.03 244.88,401.20 243.11,402.03 243.35,400.09 242.02,398.67 243.93,398.31" fill="#000"/>
<line x1="286.25" y1="452.50" x2="315.75" y2="452.50" stroke="#000" stroke-width="1.3"/>
<polygon points="294.50,443.40 295.44,445.11 297.35,445.47 296.02,446.89 296.26,448.83 294.50,448.00 292.74,448.83 292.98,446.89 291.65,445.47 293.56,445.11" fill="#000"/>
<polygon points="301.00,443.40 301.94,445.11 303.85,445.47 302.52,446.89 302.76,448.83 301.00,448.00 299.24,448.83 299.48,446.89 298.15,445.47 300.06,445.11" fill="#000"/>
<polygon points="307.50,443.40 308.44,445.11 310.35,445.47 309.02,446.89 309.26,448.83 307.50,448.00 305.74,448.83 305.98,446.89 304.65,445.47 306.56,445.11" fill="#000"/>
<line x1="388.20" y1="392.52" x2="388.20" y2="546.20" stroke="#000" stroke-width="1.4"/>
<line x1="385.00" y1="545.50" x2="388.20" y2="545.50" stroke="#000" stroke-width="1.3"/>
<text x="379.00" y="549.70" font-size="11.5" text-anchor="end">0</text>
<line x1="385.00" y1="520.12" x2="388.20" y2="520.12" stroke="#000" stroke-width="1.3"/>
<text x="379.00" y="524.32" font-size="11.5" text-anchor="end">20</text>
<line x1="385.00" y1="494.74" x2="388.20" y2="494.74" stroke="#000" stroke-width="1.3"/>
<text x="379.00" y="498.94" font-size="11.5" text-anchor="end">40</text>
<line x1="385.00" y1="469.36" x2="388.20" y2="469.36" stroke="#000" stroke-width="1.3"/>
<text x="379.00" y="473.56" font-size="11.5" text-anchor="end">60</text>
<line x1="385.00" y1="443.98" x2="388.20" y2="443.98" stroke="#000" stroke-width="1.3"/>
<text x="379.00" y="448.18" font-size="11.5" text-anchor="end">80</text>
<line x1="385.00" y1="418.60" x2="388.20" y2="418.60" stroke="#000" stroke-width="1.3"/>
<text x="379.00" y="422.80" font-size="11.5" text-anchor="end">100</text>
<line x1="385.00" y1="393.22" x2="388.20" y2="393.22" stroke="#000" stroke-width="1.3"/>
<text x="379.00" y="397.42" font-size="11.5" text-anchor="end">120</text>
<line x1="388.20" y1="545.50" x2="514.60" y2="545.50" stroke="#000" stroke-width="1.4"/>
<line x1="388.20" y1="545.50" x2="388.20" y2="548.70" stroke="#000" stroke-width="1.3"/>
<line x1="413.58" y1="545.50" x2="413.58" y2="548.70" stroke="#000" stroke-width="1.3"/>
<line x1="438.96" y1="545.50" x2="438.96" y2="548.70" stroke="#000" stroke-width="1.3"/>
<line x1="464.34" y1="545.50" x2="464.34" y2="548.70" stroke="#000" stroke-width="1.3"/>
<line x1="489.72" y1="545.50" x2="489.72" y2="548.70" stroke="#000" stroke-width="1.3"/>
<line x1="515.10" y1="545.50" x2="515.10" y2="548.70" stroke="#000" stroke-width="1.3"/>
<text x="344.40" y="471.50" font-size="11.5" text-anchor="middle" transform="rotate(-90 344.40 471.50)">% Reduction Surface B7-H6</text>
<text x="358.40" y="469.80" font-size="11.5" text-anchor="middle" transform="rotate(-90 358.40 469.80)">SAHA/DMSO</text>
<rect x="395.64" y="477.30" width="10.50" height="68.20" fill="#000"/>
<line x1="400.50" y1="477.30" x2="400.50" y2="463.50" stroke="#000" stroke-width="1.0"/>
<line x1="398.64" y1="463.50" x2="403.14" y2="463.50" stroke="#000" stroke-width="1.2"/>
<text x="404.89" y="553.00" font-size="11.2" text-anchor="end" transform="rotate(-90 404.89 553.00)">HeLa</text>
<rect x="421.02" y="455.40" width="10.50" height="90.10" fill="#000"/>
<line x1="426.50" y1="455.40" x2="426.50" y2="445.20" stroke="#000" stroke-width="1.0"/>
<line x1="424.02" y1="445.50" x2="428.52" y2="445.50" stroke="#000" stroke-width="1.2"/>
<text x="430.27" y="553.00" font-size="11.2" text-anchor="end" transform="rotate(-90 430.27 553.00)">SK-Mel-37</text>
<rect x="446.40" y="464.00" width="10.50" height="81.50" fill="#000"/>
<line x1="451.50" y1="464.00" x2="451.50" y2="444.60" stroke="#000" stroke-width="1.0"/>
<line x1="449.40" y1="444.50" x2="453.90" y2="444.50" stroke="#000" stroke-width="1.2"/>
<text x="455.65" y="553.00" font-size="11.2" text-anchor="end" transform="rotate(-90 455.65 553.00)">HepG2</text>
<rect x="471.78" y="423.60" width="10.50" height="121.90" fill="#000"/>
<line x1="477.50" y1="423.60" x2="477.50" y2="419.80" stroke="#000" stroke-width="1.0"/>
<line x1="474.78" y1="419.50" x2="479.28" y2="419.50" stroke="#000" stroke-width="1.2"/>
<text x="481.03" y="553.00" font-size="11.2" text-anchor="end" transform="rotate(-90 481.03 553.00)">Ramos</text>
<rect x="497.16" y="469.70" width="10.50" height="75.80" fill="#000"/>
<line x1="502.50" y1="469.70" x2="502.50" y2="451.90" stroke="#000" stroke-width="1.0"/>
<line x1="500.16" y1="451.50" x2="504.66" y2="451.50" stroke="#000" stroke-width="1.2"/>
<text x="506.41" y="553.00" font-size="11.2" text-anchor="end" transform="rotate(-90 506.41 553.00)">K562</text>
<line x1="401.50" y1="395.50" x2="476.90" y2="395.50" stroke="#000" stroke-width="1.3"/>
<line x1="423.90" y1="401.50" x2="476.90" y2="401.50" stroke="#000" stroke-width="1.3"/>
<line x1="450.50" y1="407.50" x2="476.90" y2="407.50" stroke="#000" stroke-width="1.3"/>
<line x1="476.40" y1="412.50" x2="498.50" y2="412.50" stroke="#000" stroke-width="1.3"/>
<polygon points="460.30,386.40 461.24,388.11 463.15,388.47 461.82,389.89 462.06,391.83 460.30,391.00 458.54,391.83 458.78,389.89 457.45,388.47 459.36,388.11" fill="#000"/>
<polygon points="466.80,386.40 467.74,388.11 469.65,388.47 468.32,389.89 468.56,391.83 466.80,391.00 465.04,391.83 465.28,389.89 463.95,388.47 465.86,388.11" fill="#000"/>
<polygon points="473.30,386.40 474.24,388.11 476.15,388.47 474.82,389.89 475.06,391.83 473.30,391.00 471.54,391.83 471.78,389.89 470.45,388.47 472.36,388.11" fill="#000"/>
<polygon points="481.50,403.30 482.44,405.01 484.35,405.37 483.02,406.79 483.26,408.73 481.50,407.90 479.74,408.73 479.98,406.79 478.65,405.37 480.56,405.01" fill="#000"/>
<polygon points="488.00,403.30 488.94,405.01 490.85,405.37 489.52,406.79 489.76,408.73 488.00,407.90 486.24,408.73 486.48,406.79 485.15,405.37 487.06,405.01" fill="#000"/>
<polygon points="494.50,403.30 495.44,405.01 497.35,405.37 496.02,406.79 496.26,408.73 494.50,407.90 492.74,408.73 492.98,406.79 491.65,405.37 493.56,405.01" fill="#000"/>
<text x="0.90" y="628.20" font-size="14.8" text-anchor="start" font-weight="bold">B</text>
<line x1="48.95" y1="635.55" x2="48.95" y2="795.70" stroke="#000" stroke-width="1.4"/>
<line x1="45.55" y1="795.00" x2="48.75" y2="795.00" stroke="#000" stroke-width="1.3"/>
<text x="42.60" y="799.00" font-size="11.2" text-anchor="end">0.000</text>
<line x1="45.55" y1="755.30" x2="48.75" y2="755.30" stroke="#000" stroke-width="1.3"/>
<text x="42.60" y="759.30" font-size="11.2" text-anchor="end">0.002</text>
<line x1="45.55" y1="715.60" x2="48.75" y2="715.60" stroke="#000" stroke-width="1.3"/>
<text x="42.60" y="719.60" font-size="11.2" text-anchor="end">0.004</text>
<line x1="45.55" y1="675.90" x2="48.75" y2="675.90" stroke="#000" stroke-width="1.3"/>
<text x="42.60" y="679.90" font-size="11.2" text-anchor="end">0.006</text>
<line x1="45.55" y1="636.20" x2="48.75" y2="636.20" stroke="#000" stroke-width="1.3"/>
<text x="42.60" y="640.20" font-size="11.2" text-anchor="end">0.008</text>
<text x="8.60" y="722.30" font-size="11.6" text-anchor="middle" transform="rotate(-90 8.60 722.30)">Relative B7-H6 mRNA Expression</text>
<line x1="48.75" y1="795.00" x2="330.50" y2="795.00" stroke="#000" stroke-width="1.4"/>
<line x1="48.50" y1="795.00" x2="48.50" y2="854.00" stroke="#000" stroke-width="1.0"/>
<line x1="104.50" y1="795.00" x2="104.50" y2="854.00" stroke="#000" stroke-width="1.0"/>
<line x1="161.50" y1="795.00" x2="161.50" y2="854.00" stroke="#000" stroke-width="1.0"/>
<line x1="217.50" y1="795.00" x2="217.50" y2="854.00" stroke="#000" stroke-width="1.0"/>
<line x1="274.50" y1="795.00" x2="274.50" y2="854.00" stroke="#000" stroke-width="1.0"/>
<line x1="330.50" y1="795.00" x2="330.50" y2="854.00" stroke="#000" stroke-width="1.0"/>
<line x1="76.50" y1="795.00" x2="76.50" y2="833.75" stroke="#000" stroke-width="1.0"/>
<line x1="132.50" y1="795.00" x2="132.50" y2="833.75" stroke="#000" stroke-width="1.0"/>
<line x1="189.50" y1="795.00" x2="189.50" y2="833.75" stroke="#000" stroke-width="1.0"/>
<line x1="245.50" y1="795.00" x2="245.50" y2="833.75" stroke="#000" stroke-width="1.0"/>
<line x1="302.50" y1="795.00" x2="302.50" y2="833.75" stroke="#000" stroke-width="1.0"/>
<rect x="57.00" y="755.00" width="11.00" height="40.00" fill="#000"/>
<line x1="62.50" y1="755.00" x2="62.50" y2="748.00" stroke="#000" stroke-width="1.0"/>
<line x1="60.25" y1="748.50" x2="64.75" y2="748.50" stroke="#000" stroke-width="1.2"/>
<rect x="85.50" y="788.00" width="10.75" height="7.00" fill="#000"/>
<line x1="90.50" y1="788.00" x2="90.50" y2="786.75" stroke="#000" stroke-width="1.0"/>
<line x1="88.62" y1="786.50" x2="93.12" y2="786.50" stroke="#000" stroke-width="1.2"/>
<rect x="113.75" y="776.00" width="10.75" height="19.00" fill="#000"/>
<line x1="119.50" y1="776.00" x2="119.50" y2="774.25" stroke="#000" stroke-width="1.0"/>
<line x1="116.88" y1="774.50" x2="121.38" y2="774.50" stroke="#000" stroke-width="1.2"/>
<rect x="141.25" y="791.75" width="11.75" height="3.25" fill="#000"/>
<line x1="147.50" y1="791.75" x2="147.50" y2="791.00" stroke="#000" stroke-width="1.0"/>
<line x1="144.88" y1="791.50" x2="149.38" y2="791.50" stroke="#000" stroke-width="1.2"/>
<rect x="170.00" y="779.25" width="11.25" height="15.75" fill="#000"/>
<line x1="175.50" y1="779.25" x2="175.50" y2="778.75" stroke="#000" stroke-width="1.0"/>
<line x1="173.38" y1="778.50" x2="177.88" y2="778.50" stroke="#000" stroke-width="1.2"/>
<rect x="198.00" y="793.25" width="10.75" height="1.75" fill="#000"/>
<line x1="203.50" y1="793.25" x2="203.50" y2="793.00" stroke="#000" stroke-width="1.0"/>
<line x1="201.12" y1="793.50" x2="205.62" y2="793.50" stroke="#000" stroke-width="1.2"/>
<rect x="226.25" y="675.75" width="10.75" height="119.25" fill="#000"/>
<line x1="231.50" y1="675.75" x2="231.50" y2="656.75" stroke="#000" stroke-width="1.0"/>
<line x1="229.38" y1="656.50" x2="233.88" y2="656.50" stroke="#000" stroke-width="1.2"/>
<rect x="254.50" y="783.75" width="11.00" height="11.25" fill="#000"/>
<line x1="260.50" y1="783.75" x2="260.50" y2="783.00" stroke="#000" stroke-width="1.0"/>
<line x1="257.75" y1="783.50" x2="262.25" y2="783.50" stroke="#000" stroke-width="1.2"/>
<rect x="282.00" y="758.75" width="11.25" height="36.25" fill="#000"/>
<line x1="287.50" y1="758.75" x2="287.50" y2="758.00" stroke="#000" stroke-width="1.0"/>
<line x1="285.38" y1="758.50" x2="289.88" y2="758.50" stroke="#000" stroke-width="1.2"/>
<rect x="310.50" y="791.75" width="10.75" height="3.25" fill="#000"/>
<line x1="315.50" y1="791.75" x2="315.50" y2="791.00" stroke="#000" stroke-width="1.0"/>
<line x1="313.62" y1="791.50" x2="318.12" y2="791.50" stroke="#000" stroke-width="1.2"/>
<text x="67.29" y="800.00" font-size="12" text-anchor="end" transform="rotate(-90 67.29 800.00)">DMSO</text>
<text x="95.16" y="800.00" font-size="12" text-anchor="end" transform="rotate(-90 95.16 800.00)">SAHA</text>
<text x="77.42" y="850.50" font-size="11.5" text-anchor="middle">HeLa</text>
<text x="123.29" y="800.00" font-size="12" text-anchor="end" transform="rotate(-90 123.29 800.00)">DMSO</text>
<text x="151.66" y="800.00" font-size="12" text-anchor="end" transform="rotate(-90 151.66 800.00)">SAHA</text>
<text x="133.68" y="850.50" font-size="11.5" text-anchor="middle">SK-Mel-37</text>
<text x="179.97" y="800.00" font-size="12" text-anchor="end" transform="rotate(-90 179.97 800.00)">DMSO</text>
<text x="208.22" y="800.00" font-size="12" text-anchor="end" transform="rotate(-90 208.22 800.00)">SAHA</text>
<text x="190.30" y="850.50" font-size="11.5" text-anchor="middle">HepG2</text>
<text x="236.41" y="800.00" font-size="12" text-anchor="end" transform="rotate(-90 236.41 800.00)">DMSO</text>
<text x="264.54" y="800.00" font-size="12" text-anchor="end" transform="rotate(-90 264.54 800.00)">SAHA</text>
<text x="246.68" y="850.50" font-size="11.5" text-anchor="middle">Ramos</text>
<text x="292.73" y="800.00" font-size="12" text-anchor="end" transform="rotate(-90 292.73 800.00)">DMSO</text>
<text x="320.98" y="800.00" font-size="12" text-anchor="end" transform="rotate(-90 320.98 800.00)">SAHA</text>
<text x="303.05" y="850.50" font-size="11.5" text-anchor="middle">K562</text>
<line x1="388.20" y1="638.20" x2="388.20" y2="795.60" stroke="#000" stroke-width="1.4"/>
<line x1="385.00" y1="794.90" x2="388.20" y2="794.90" stroke="#000" stroke-width="1.3"/>
<text x="379.00" y="799.10" font-size="11.5" text-anchor="end">0</text>
<line x1="385.00" y1="768.90" x2="388.20" y2="768.90" stroke="#000" stroke-width="1.3"/>
<text x="379.00" y="773.10" font-size="11.5" text-anchor="end">20</text>
<line x1="385.00" y1="742.90" x2="388.20" y2="742.90" stroke="#000" stroke-width="1.3"/>
<text x="379.00" y="747.10" font-size="11.5" text-anchor="end">40</text>
<line x1="385.00" y1="716.90" x2="388.20" y2="716.90" stroke="#000" stroke-width="1.3"/>
<text x="379.00" y="721.10" font-size="11.5" text-anchor="end">60</text>
<line x1="385.00" y1="690.90" x2="388.20" y2="690.90" stroke="#000" stroke-width="1.3"/>
<text x="379.00" y="695.10" font-size="11.5" text-anchor="end">80</text>
<line x1="385.00" y1="664.90" x2="388.20" y2="664.90" stroke="#000" stroke-width="1.3"/>
<text x="379.00" y="669.10" font-size="11.5" text-anchor="end">100</text>
<line x1="385.00" y1="638.90" x2="388.20" y2="638.90" stroke="#000" stroke-width="1.3"/>
<text x="379.00" y="643.10" font-size="11.5" text-anchor="end">120</text>
<line x1="388.20" y1="794.90" x2="514.60" y2="794.90" stroke="#000" stroke-width="1.4"/>
<line x1="388.20" y1="794.90" x2="388.20" y2="798.10" stroke="#000" stroke-width="1.3"/>
<line x1="413.58" y1="794.90" x2="413.58" y2="798.10" stroke="#000" stroke-width="1.3"/>
<line x1="438.96" y1="794.90" x2="438.96" y2="798.10" stroke="#000" stroke-width="1.3"/>
<line x1="464.34" y1="794.90" x2="464.34" y2="798.10" stroke="#000" stroke-width="1.3"/>
<line x1="489.72" y1="794.90" x2="489.72" y2="798.10" stroke="#000" stroke-width="1.3"/>
<line x1="515.10" y1="794.90" x2="515.10" y2="798.10" stroke="#000" stroke-width="1.3"/>
<text x="344.00" y="717.00" font-size="11.3" text-anchor="middle" transform="rotate(-90 344.00 717.00)">% Reduction B7-H6 mRNA</text>
<text x="357.80" y="718.70" font-size="11.3" text-anchor="middle" transform="rotate(-90 357.80 718.70)">SAHA/DMSO</text>
<rect x="395.64" y="687.35" width="10.50" height="107.55" fill="#000"/>
<line x1="400.50" y1="687.35" x2="400.50" y2="702.20" stroke="#777" stroke-width="1.0"/>
<line x1="400.50" y1="687.35" x2="400.50" y2="673.90" stroke="#000" stroke-width="1.0"/>
<line x1="398.64" y1="673.50" x2="403.14" y2="673.50" stroke="#000" stroke-width="1.2"/>
<text x="404.89" y="802.50" font-size="11.2" text-anchor="end" transform="rotate(-90 404.89 802.50)">HeLa</text>
<rect x="421.02" y="689.80" width="10.50" height="105.10" fill="#000"/>
<line x1="426.50" y1="689.80" x2="426.50" y2="700.50" stroke="#777" stroke-width="1.0"/>
<line x1="426.50" y1="689.80" x2="426.50" y2="679.30" stroke="#000" stroke-width="1.0"/>
<line x1="424.02" y1="679.50" x2="428.52" y2="679.50" stroke="#000" stroke-width="1.2"/>
<text x="430.27" y="802.50" font-size="11.2" text-anchor="end" transform="rotate(-90 430.27 802.50)">SK-Mel-37</text>
<rect x="446.40" y="679.30" width="10.50" height="115.60" fill="#000"/>
<line x1="451.50" y1="679.30" x2="451.50" y2="699.50" stroke="#777" stroke-width="1.0"/>
<line x1="451.50" y1="679.30" x2="451.50" y2="660.20" stroke="#000" stroke-width="1.0"/>
<line x1="449.40" y1="660.50" x2="453.90" y2="660.50" stroke="#000" stroke-width="1.2"/>
<text x="455.65" y="802.50" font-size="11.2" text-anchor="end" transform="rotate(-90 455.65 802.50)">HepG2</text>
<rect x="471.78" y="677.10" width="10.50" height="117.80" fill="#000"/>
<line x1="477.50" y1="677.10" x2="477.50" y2="681.20" stroke="#777" stroke-width="1.0"/>
<line x1="477.50" y1="677.10" x2="477.50" y2="673.10" stroke="#000" stroke-width="1.0"/>
<line x1="474.78" y1="673.50" x2="479.28" y2="673.50" stroke="#000" stroke-width="1.2"/>
<text x="481.03" y="802.50" font-size="11.2" text-anchor="end" transform="rotate(-90 481.03 802.50)">Ramos</text>
<rect x="497.16" y="677.90" width="10.50" height="117.00" fill="#000"/>
<line x1="502.50" y1="677.90" x2="502.50" y2="696.00" stroke="#777" stroke-width="1.0"/>
<line x1="502.50" y1="677.90" x2="502.50" y2="660.20" stroke="#000" stroke-width="1.0"/>
<line x1="500.16" y1="660.50" x2="504.66" y2="660.50" stroke="#000" stroke-width="1.2"/>
<text x="506.41" y="802.50" font-size="11.2" text-anchor="end" transform="rotate(-90 506.41 802.50)">K562</text>
</svg></body></html>
